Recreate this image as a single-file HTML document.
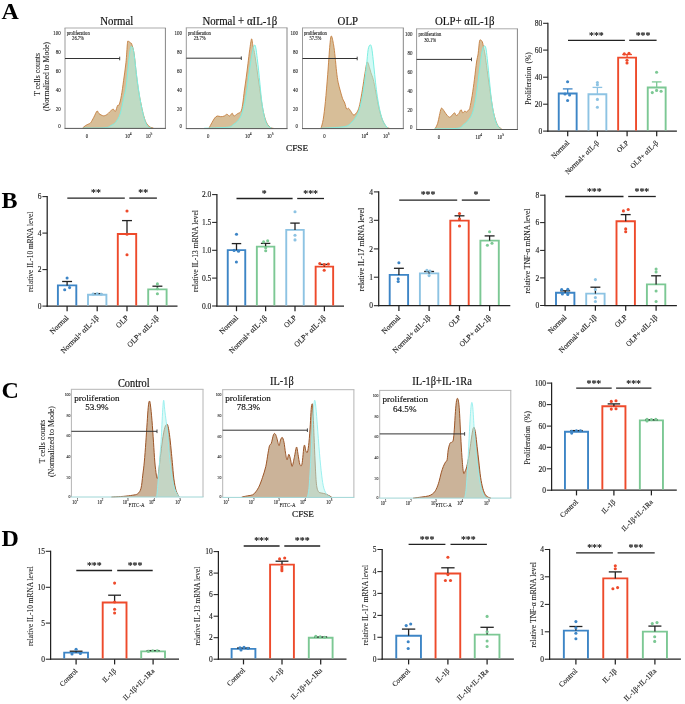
<!DOCTYPE html>
<html><head><meta charset="utf-8"><style>
html,body{margin:0;padding:0;background:#fff;}
svg{display:block;will-change:transform;}
text{font-family:"Liberation Serif", serif;stroke:currentColor;}
</style></head><body>
<svg width="685" height="704" viewBox="0 0 685 704">
<rect width="685" height="704" fill="#fff"/>
<text x="1.4" y="18.7" font-size="24" text-anchor="start" font-weight="bold" fill="#000" color="#000" stroke-width="0">A</text>
<text x="1.6" y="208.4" font-size="24" text-anchor="start" font-weight="bold" fill="#000" color="#000" stroke-width="0">B</text>
<text x="1.6" y="397.6" font-size="24" text-anchor="start" font-weight="bold" fill="#000" color="#000" stroke-width="0">C</text>
<text x="1.4" y="545.8" font-size="24" text-anchor="start" font-weight="bold" fill="#000" color="#000" stroke-width="0">D</text>
<path d="M82.61 128.06 C83.11 127.64 84.6 126.2 85.59 125.53 C86.58 124.86 87.7 124.54 88.57 124.04 C89.44 123.55 89.93 123.67 90.8 122.55 C91.67 121.44 92.74 119.25 93.78 117.34 C94.82 115.43 96.19 111.71 97.06 111.09 C97.93 110.47 97.93 112.83 98.99 113.62 C100.06 114.41 102.09 115.73 103.46 115.85 C104.82 115.98 106.19 114.99 107.18 114.36 C108.18 113.74 108.42 113 109.42 112.13 C110.41 111.26 112.15 109.28 113.14 109.15 C114.13 109.03 114.63 112.01 115.37 111.39 C116.12 110.77 116.96 106.57 117.61 105.43 C118.25 104.29 118.61 106.18 119.24 104.54 C119.88 102.9 120.68 99.57 121.4 95.6 C122.12 91.63 122.81 86.17 123.56 80.71 C124.32 75.25 125.3 69.07 125.94 62.84 C126.59 56.61 127.07 46.94 127.43 43.34 C127.79 39.74 127.61 41.35 128.1 41.25 C128.6 41.15 129.8 42.25 130.41 42.74 C131.02 43.24 131.13 42.37 131.75 44.23 C132.37 46.09 133.36 48.82 134.13 53.91 C134.9 59 135.62 68.55 136.37 74.76 C137.11 80.96 137.86 86.42 138.6 91.14 C139.35 95.85 140.09 99.33 140.84 103.05 C141.58 106.77 142.2 110.22 143.07 113.47 C143.94 116.72 144.93 120.32 146.05 122.55 C147.16 124.79 148.55 125.95 149.77 126.87 C150.99 127.79 152.75 127.87 153.34 128.06 L153.34 128.4 L82.61 128.4 Z" fill="#d7be98" stroke="none"/>
<path d="M82.61 128.06 C83.11 127.64 84.6 126.2 85.59 125.53 C86.58 124.86 87.7 124.54 88.57 124.04 C89.44 123.55 89.93 123.67 90.8 122.55 C91.67 121.44 92.74 119.25 93.78 117.34 C94.82 115.43 96.19 111.71 97.06 111.09 C97.93 110.47 97.93 112.83 98.99 113.62 C100.06 114.41 102.09 115.73 103.46 115.85 C104.82 115.98 106.19 114.99 107.18 114.36 C108.18 113.74 108.42 113 109.42 112.13 C110.41 111.26 112.15 109.28 113.14 109.15 C114.13 109.03 114.63 112.01 115.37 111.39 C116.12 110.77 116.96 106.57 117.61 105.43 C118.25 104.29 118.61 106.18 119.24 104.54 C119.88 102.9 120.68 99.57 121.4 95.6 C122.12 91.63 122.81 86.17 123.56 80.71 C124.32 75.25 125.3 69.07 125.94 62.84 C126.59 56.61 127.07 46.94 127.43 43.34 C127.79 39.74 127.61 41.35 128.1 41.25 C128.6 41.15 129.8 42.25 130.41 42.74 C131.02 43.24 131.13 42.37 131.75 44.23 C132.37 46.09 133.36 48.82 134.13 53.91 C134.9 59 135.62 68.55 136.37 74.76 C137.11 80.96 137.86 86.42 138.6 91.14 C139.35 95.85 140.09 99.33 140.84 103.05 C141.58 106.77 142.2 110.22 143.07 113.47 C143.94 116.72 144.93 120.32 146.05 122.55 C147.16 124.79 148.55 125.95 149.77 126.87 C150.99 127.79 152.75 127.87 153.34 128.06" fill="none" stroke="#c47e3e" stroke-width="0.9" stroke-linejoin="round"/>
<path d="M83.36 128.06 C86.96 128.01 100.33 128.19 104.95 127.77 C109.56 127.34 109.32 126.4 111.05 125.53 C112.79 124.66 114.01 124.07 115.37 122.55 C116.74 121.04 118.24 118.71 119.24 116.45 C120.25 114.19 120.68 111.98 121.4 109 C122.12 106.03 122.81 102.06 123.56 98.58 C124.32 95.11 125.3 92.13 125.94 88.16 C126.59 84.19 126.94 79.47 127.43 74.76 C127.93 70.04 128.43 64.23 128.92 59.87 C129.42 55.5 129.94 50.78 130.41 48.55 C130.88 46.32 131.28 46.32 131.75 46.46 C132.22 46.61 132.73 47.21 133.24 49.44 C133.75 51.68 134.28 55.89 134.8 59.87 C135.33 63.84 135.81 68.8 136.37 73.27 C136.93 77.73 137.56 82.45 138.15 86.67 C138.75 90.89 139.25 94.61 139.94 98.58 C140.64 102.55 141.55 107.02 142.32 110.49 C143.09 113.97 143.69 116.8 144.56 119.43 C145.43 122.06 146.42 124.84 147.54 126.28 C148.65 127.72 150.64 127.77 151.26 128.06 L151.26 128.4 L83.36 128.4 Z" fill="#a9f5ec" fill-opacity="0.523" stroke="none"/>
<path d="M83.36 128.06 C86.96 128.01 100.33 128.19 104.95 127.77 C109.56 127.34 109.32 126.4 111.05 125.53 C112.79 124.66 114.01 124.07 115.37 122.55 C116.74 121.04 118.24 118.71 119.24 116.45 C120.25 114.19 120.68 111.98 121.4 109 C122.12 106.03 122.81 102.06 123.56 98.58 C124.32 95.11 125.3 92.13 125.94 88.16 C126.59 84.19 126.94 79.47 127.43 74.76 C127.93 70.04 128.43 64.23 128.92 59.87 C129.42 55.5 129.94 50.78 130.41 48.55 C130.88 46.32 131.28 46.32 131.75 46.46 C132.22 46.61 132.73 47.21 133.24 49.44 C133.75 51.68 134.28 55.89 134.8 59.87 C135.33 63.84 135.81 68.8 136.37 73.27 C136.93 77.73 137.56 82.45 138.15 86.67 C138.75 90.89 139.25 94.61 139.94 98.58 C140.64 102.55 141.55 107.02 142.32 110.49 C143.09 113.97 143.69 116.8 144.56 119.43 C145.43 122.06 146.42 124.84 147.54 126.28 C148.65 127.72 150.64 127.77 151.26 128.06" fill="none" stroke="#7eefe2" stroke-width="1.0" stroke-linejoin="round"/>
<line x1="64.5" y1="28" x2="165.9" y2="28" stroke="#ababab" stroke-width="1"/>
<line x1="65" y1="28" x2="65" y2="128.4" stroke="#999" stroke-width="1"/>
<line x1="165.4" y1="28" x2="165.4" y2="128.4" stroke="#858585" stroke-width="1"/>
<line x1="64.5" y1="128.4" x2="165.9" y2="128.4" stroke="#555" stroke-width="1"/>
<line x1="65" y1="58.5" x2="119.7" y2="58.5" stroke="#333" stroke-width="1"/>
<line x1="119.7" y1="56.7" x2="119.7" y2="60.3" stroke="#333" stroke-width="0.9"/>
<text x="0" y="0" font-size="4.6" text-anchor="start" font-weight="normal" fill="#111" color="#111" stroke-width="0.08" transform="translate(66.8 34.8) scale(1 1.15)">proliferation</text>
<text x="0" y="0" font-size="4.6" text-anchor="start" font-weight="normal" fill="#111" color="#111" stroke-width="0.08" transform="translate(72.1 40.3) scale(1 1.15)">26.7%</text>
<text x="0" y="0" font-size="5" text-anchor="end" font-weight="normal" fill="#222" color="#222" stroke-width="0.09" transform="translate(60.8 35) scale(1 1.3)">100</text>
<text x="0" y="0" font-size="5" text-anchor="end" font-weight="normal" fill="#222" color="#222" stroke-width="0.09" transform="translate(60.8 54) scale(1 1.3)">80</text>
<text x="0" y="0" font-size="5" text-anchor="end" font-weight="normal" fill="#222" color="#222" stroke-width="0.09" transform="translate(60.8 73) scale(1 1.3)">60</text>
<text x="0" y="0" font-size="5" text-anchor="end" font-weight="normal" fill="#222" color="#222" stroke-width="0.09" transform="translate(60.8 92) scale(1 1.3)">40</text>
<text x="0" y="0" font-size="5" text-anchor="end" font-weight="normal" fill="#222" color="#222" stroke-width="0.09" transform="translate(60.8 111) scale(1 1.3)">20</text>
<text x="0" y="0" font-size="5" text-anchor="end" font-weight="normal" fill="#222" color="#222" stroke-width="0.09" transform="translate(60.8 128) scale(1 1.3)">0</text>
<text x="0" y="0" font-size="4.8" text-anchor="middle" font-weight="normal" fill="#222" color="#222" stroke-width="0.09" transform="translate(86.9 138) scale(1 1.2)">0</text>
<text x="0" y="0" font-size="4.8" text-anchor="middle" fill="#222" color="#222" stroke-width="0.1" transform="translate(128.3 138) scale(1 1.2)">10<tspan font-size="3.6" dy="-2.88">4</tspan></text>
<text x="0" y="0" font-size="4.8" text-anchor="middle" fill="#222" color="#222" stroke-width="0.1" transform="translate(149.1 138) scale(1 1.2)">10<tspan font-size="3.6" dy="-2.88">5</tspan></text>
<text x="0" y="0" font-size="10.6" text-anchor="middle" font-weight="normal" fill="#111" color="#111" stroke-width="0.16" transform="translate(116.7 24.6) scale(1.02 1.17)">Normal</text>
<path d="M208.89 128.26 C209.42 127.3 211.08 124.18 212.04 122.48 C213.01 120.79 213.8 119.18 214.67 118.1 C215.55 117.02 216.28 116.23 217.3 116 C218.32 115.77 219.64 116.7 220.8 116.7 C221.97 116.7 223.28 116.41 224.31 116 C225.33 115.59 226.06 114.25 226.93 114.25 C227.81 114.25 228.69 116.18 229.56 116 C230.44 115.82 231.46 113.2 232.19 113.2 C232.92 113.2 233.07 115.91 233.94 116 C234.82 116.09 236.28 114.48 237.45 113.72 C238.61 112.96 240.07 113.05 240.95 111.45 C241.82 109.84 242.12 107.65 242.7 104.09 C243.28 100.53 243.87 94.45 244.45 90.07 C245.04 85.69 245.62 82.19 246.2 77.81 C246.79 73.43 247.37 68.47 247.96 63.8 C248.54 59.12 249.11 53.93 249.71 49.78 C250.31 45.64 251.05 39.8 251.55 38.92 C252.04 38.04 252.32 42.86 252.69 44.53 C253.05 46.19 253.33 46.86 253.74 48.91 C254.15 50.95 254.64 53.72 255.14 56.79 C255.64 59.85 256.22 63.8 256.72 67.3 C257.21 70.8 257.62 74.31 258.12 77.81 C258.61 81.31 259.2 84.82 259.69 88.32 C260.19 91.82 260.57 95.33 261.09 98.83 C261.62 102.34 262.2 106.13 262.85 109.34 C263.49 112.55 264.19 115.62 264.95 118.1 C265.71 120.58 266.44 122.63 267.4 124.23 C268.36 125.84 269.74 127.07 270.73 127.74 C271.72 128.41 272.92 128.18 273.36 128.26 L273.36 128.6 L208.89 128.6 Z" fill="#d7be98" stroke="none"/>
<path d="M208.89 128.26 C209.42 127.3 211.08 124.18 212.04 122.48 C213.01 120.79 213.8 119.18 214.67 118.1 C215.55 117.02 216.28 116.23 217.3 116 C218.32 115.77 219.64 116.7 220.8 116.7 C221.97 116.7 223.28 116.41 224.31 116 C225.33 115.59 226.06 114.25 226.93 114.25 C227.81 114.25 228.69 116.18 229.56 116 C230.44 115.82 231.46 113.2 232.19 113.2 C232.92 113.2 233.07 115.91 233.94 116 C234.82 116.09 236.28 114.48 237.45 113.72 C238.61 112.96 240.07 113.05 240.95 111.45 C241.82 109.84 242.12 107.65 242.7 104.09 C243.28 100.53 243.87 94.45 244.45 90.07 C245.04 85.69 245.62 82.19 246.2 77.81 C246.79 73.43 247.37 68.47 247.96 63.8 C248.54 59.12 249.11 53.93 249.71 49.78 C250.31 45.64 251.05 39.8 251.55 38.92 C252.04 38.04 252.32 42.86 252.69 44.53 C253.05 46.19 253.33 46.86 253.74 48.91 C254.15 50.95 254.64 53.72 255.14 56.79 C255.64 59.85 256.22 63.8 256.72 67.3 C257.21 70.8 257.62 74.31 258.12 77.81 C258.61 81.31 259.2 84.82 259.69 88.32 C260.19 91.82 260.57 95.33 261.09 98.83 C261.62 102.34 262.2 106.13 262.85 109.34 C263.49 112.55 264.19 115.62 264.95 118.1 C265.71 120.58 266.44 122.63 267.4 124.23 C268.36 125.84 269.74 127.07 270.73 127.74 C271.72 128.41 272.92 128.18 273.36 128.26" fill="none" stroke="#c47e3e" stroke-width="0.9" stroke-linejoin="round"/>
<path d="M204.16 128.26 C208.1 128.09 222.99 127.8 227.81 127.21 C232.63 126.63 231.46 125.75 233.07 124.76 C234.67 123.77 236.13 122.72 237.45 121.26 C238.76 119.8 239.93 118.28 240.95 116 C241.97 113.72 242.79 110.74 243.58 107.59 C244.36 104.44 245.04 100.58 245.68 97.08 C246.32 93.58 246.85 90.66 247.43 86.57 C248.01 82.48 248.6 76.93 249.18 72.55 C249.77 68.18 250.35 63.94 250.93 60.29 C251.52 56.64 252.07 53.2 252.69 50.66 C253.3 48.12 254.09 45.49 254.61 45.05 C255.14 44.61 255.4 45.78 255.84 48.03 C256.28 50.28 256.77 54.74 257.24 58.54 C257.71 62.34 258.18 66.42 258.64 70.8 C259.11 75.18 259.58 80.15 260.04 84.82 C260.51 89.49 260.92 94.45 261.45 98.83 C261.97 103.21 262.53 107.45 263.2 111.09 C263.87 114.74 264.66 118.25 265.47 120.73 C266.29 123.21 267.08 124.73 268.1 125.99 C269.12 127.24 271.02 127.88 271.61 128.26 L271.61 128.6 L204.16 128.6 Z" fill="#a9f5ec" fill-opacity="0.523" stroke="none"/>
<path d="M204.16 128.26 C208.1 128.09 222.99 127.8 227.81 127.21 C232.63 126.63 231.46 125.75 233.07 124.76 C234.67 123.77 236.13 122.72 237.45 121.26 C238.76 119.8 239.93 118.28 240.95 116 C241.97 113.72 242.79 110.74 243.58 107.59 C244.36 104.44 245.04 100.58 245.68 97.08 C246.32 93.58 246.85 90.66 247.43 86.57 C248.01 82.48 248.6 76.93 249.18 72.55 C249.77 68.18 250.35 63.94 250.93 60.29 C251.52 56.64 252.07 53.2 252.69 50.66 C253.3 48.12 254.09 45.49 254.61 45.05 C255.14 44.61 255.4 45.78 255.84 48.03 C256.28 50.28 256.77 54.74 257.24 58.54 C257.71 62.34 258.18 66.42 258.64 70.8 C259.11 75.18 259.58 80.15 260.04 84.82 C260.51 89.49 260.92 94.45 261.45 98.83 C261.97 103.21 262.53 107.45 263.2 111.09 C263.87 114.74 264.66 118.25 265.47 120.73 C266.29 123.21 267.08 124.73 268.1 125.99 C269.12 127.24 271.02 127.88 271.61 128.26" fill="none" stroke="#7eefe2" stroke-width="1.0" stroke-linejoin="round"/>
<line x1="185.8" y1="27.8" x2="287.5" y2="27.8" stroke="#ababab" stroke-width="1"/>
<line x1="186.3" y1="27.8" x2="186.3" y2="128.6" stroke="#999" stroke-width="1"/>
<line x1="287" y1="27.8" x2="287" y2="128.6" stroke="#858585" stroke-width="1"/>
<line x1="185.8" y1="128.6" x2="287.5" y2="128.6" stroke="#555" stroke-width="1"/>
<line x1="186.3" y1="58.2" x2="241.3" y2="58.2" stroke="#333" stroke-width="1"/>
<line x1="241.3" y1="56.4" x2="241.3" y2="60" stroke="#333" stroke-width="0.9"/>
<text x="0" y="0" font-size="4.6" text-anchor="start" font-weight="normal" fill="#111" color="#111" stroke-width="0.08" transform="translate(188 34.7) scale(1 1.15)">proliferation</text>
<text x="0" y="0" font-size="4.6" text-anchor="start" font-weight="normal" fill="#111" color="#111" stroke-width="0.08" transform="translate(193.7 39.9) scale(1 1.15)">23.7%</text>
<text x="0" y="0" font-size="5" text-anchor="end" font-weight="normal" fill="#222" color="#222" stroke-width="0.09" transform="translate(182 34.8) scale(1 1.3)">100</text>
<text x="0" y="0" font-size="5" text-anchor="end" font-weight="normal" fill="#222" color="#222" stroke-width="0.09" transform="translate(182 53.8) scale(1 1.3)">80</text>
<text x="0" y="0" font-size="5" text-anchor="end" font-weight="normal" fill="#222" color="#222" stroke-width="0.09" transform="translate(182 72.8) scale(1 1.3)">60</text>
<text x="0" y="0" font-size="5" text-anchor="end" font-weight="normal" fill="#222" color="#222" stroke-width="0.09" transform="translate(182 91.8) scale(1 1.3)">40</text>
<text x="0" y="0" font-size="5" text-anchor="end" font-weight="normal" fill="#222" color="#222" stroke-width="0.09" transform="translate(182 110.8) scale(1 1.3)">20</text>
<text x="0" y="0" font-size="5" text-anchor="end" font-weight="normal" fill="#222" color="#222" stroke-width="0.09" transform="translate(182 128) scale(1 1.3)">0</text>
<text x="0" y="0" font-size="4.8" text-anchor="middle" font-weight="normal" fill="#222" color="#222" stroke-width="0.09" transform="translate(208.2 138) scale(1 1.2)">0</text>
<text x="0" y="0" font-size="4.8" text-anchor="middle" fill="#222" color="#222" stroke-width="0.1" transform="translate(248.3 138) scale(1 1.2)">10<tspan font-size="3.6" dy="-2.88">4</tspan></text>
<text x="0" y="0" font-size="4.8" text-anchor="middle" fill="#222" color="#222" stroke-width="0.1" transform="translate(270.2 138) scale(1 1.2)">10<tspan font-size="3.6" dy="-2.88">5</tspan></text>
<text x="0" y="0" font-size="10.6" text-anchor="middle" font-weight="normal" fill="#111" color="#111" stroke-width="0.16" transform="translate(239.8 24.6) scale(1.02 1.17)">Normal + αIL-1β</text>
<path d="M321 128.26 C321.36 126.8 322.46 123.95 323.19 119.5 C323.92 115.06 324.65 109.07 325.4 101.6 C326.15 94.13 326.94 84.14 327.69 74.69 C328.44 65.24 329.28 51.34 329.9 44.89 C330.52 38.44 330.77 35.99 331.39 35.99 C332 35.99 332.98 41.43 333.6 44.89 C334.21 48.36 334.6 52.3 335.1 56.79 C335.6 61.27 336.09 67.57 336.59 71.8 C337.09 76.04 337.46 78.98 338.1 82.19 C338.73 85.4 339.64 88.35 340.39 91.09 C341.14 93.82 341.87 96.6 342.6 98.6 C343.33 100.6 344.12 101.36 344.79 103.09 C345.46 104.82 345.96 108.13 346.59 108.99 C347.23 109.86 347.89 107.91 348.59 108.29 C349.29 108.67 349.93 110.17 350.8 111.29 C351.67 112.41 352.68 115 353.79 115 C354.91 115 356.51 113.02 357.49 111.29 C358.47 109.55 358.88 108.19 359.7 104.6 C360.52 101 361.52 94.92 362.4 89.71 C363.27 84.49 364.15 77.89 364.95 73.29 C365.75 68.69 366.45 63.09 367.2 62.1 C367.94 61.1 368.79 65.56 369.4 67.3 C370.02 69.03 370.26 70.52 370.89 72.5 C371.52 74.48 372.44 76.33 373.19 79.19 C373.94 82.06 374.66 85.97 375.39 89.71 C376.13 93.44 376.85 97.87 377.6 101.6 C378.35 105.33 379.01 108.86 379.9 112.09 C380.78 115.33 381.78 118.53 382.89 120.99 C384.01 123.46 385.47 125.66 386.59 126.9 C387.7 128.13 389.08 128.15 389.58 128.4 L389.58 128.6 L321 128.6 Z" fill="#d7be98" stroke="none"/>
<path d="M321 128.26 C321.36 126.8 322.46 123.95 323.19 119.5 C323.92 115.06 324.65 109.07 325.4 101.6 C326.15 94.13 326.94 84.14 327.69 74.69 C328.44 65.24 329.28 51.34 329.9 44.89 C330.52 38.44 330.77 35.99 331.39 35.99 C332 35.99 332.98 41.43 333.6 44.89 C334.21 48.36 334.6 52.3 335.1 56.79 C335.6 61.27 336.09 67.57 336.59 71.8 C337.09 76.04 337.46 78.98 338.1 82.19 C338.73 85.4 339.64 88.35 340.39 91.09 C341.14 93.82 341.87 96.6 342.6 98.6 C343.33 100.6 344.12 101.36 344.79 103.09 C345.46 104.82 345.96 108.13 346.59 108.99 C347.23 109.86 347.89 107.91 348.59 108.29 C349.29 108.67 349.93 110.17 350.8 111.29 C351.67 112.41 352.68 115 353.79 115 C354.91 115 356.51 113.02 357.49 111.29 C358.47 109.55 358.88 108.19 359.7 104.6 C360.52 101 361.52 94.92 362.4 89.71 C363.27 84.49 364.15 77.89 364.95 73.29 C365.75 68.69 366.45 63.09 367.2 62.1 C367.94 61.1 368.79 65.56 369.4 67.3 C370.02 69.03 370.26 70.52 370.89 72.5 C371.52 74.48 372.44 76.33 373.19 79.19 C373.94 82.06 374.66 85.97 375.39 89.71 C376.13 93.44 376.85 97.87 377.6 101.6 C378.35 105.33 379.01 108.86 379.9 112.09 C380.78 115.33 381.78 118.53 382.89 120.99 C384.01 123.46 385.47 125.66 386.59 126.9 C387.7 128.13 389.08 128.15 389.58 128.4" fill="none" stroke="#c47e3e" stroke-width="0.9" stroke-linejoin="round"/>
<path d="M321 128.26 C323.73 128.12 333.18 127.73 337.4 127.39 C341.61 127.04 344.06 126.89 346.3 126.2 C348.53 125.5 349.3 124.57 350.8 123.2 C352.3 121.83 353.93 120.11 355.3 118 C356.67 115.88 357.88 113.73 359 110.5 C360.11 107.27 361.13 102.82 361.99 98.6 C362.86 94.39 363.45 90.67 364.2 85.2 C364.95 79.73 365.83 71.76 366.49 65.79 C367.16 59.82 367.58 52.88 368.19 49.4 C368.81 45.91 369.61 45.14 370.19 44.89 C370.78 44.65 371.2 45.42 371.7 47.91 C372.2 50.39 372.69 55.34 373.19 59.8 C373.69 64.27 374.16 69.71 374.69 74.69 C375.23 79.68 375.78 84.97 376.39 89.71 C377.01 94.44 377.69 99.12 378.39 103.09 C379.09 107.05 379.73 110.26 380.6 113.49 C381.46 116.73 382.34 120.01 383.59 122.5 C384.84 124.98 387.34 127.42 388.09 128.4 L388.09 128.6 L321 128.6 Z" fill="#a9f5ec" fill-opacity="0.523" stroke="none"/>
<path d="M321 128.26 C323.73 128.12 333.18 127.73 337.4 127.39 C341.61 127.04 344.06 126.89 346.3 126.2 C348.53 125.5 349.3 124.57 350.8 123.2 C352.3 121.83 353.93 120.11 355.3 118 C356.67 115.88 357.88 113.73 359 110.5 C360.11 107.27 361.13 102.82 361.99 98.6 C362.86 94.39 363.45 90.67 364.2 85.2 C364.95 79.73 365.83 71.76 366.49 65.79 C367.16 59.82 367.58 52.88 368.19 49.4 C368.81 45.91 369.61 45.14 370.19 44.89 C370.78 44.65 371.2 45.42 371.7 47.91 C372.2 50.39 372.69 55.34 373.19 59.8 C373.69 64.27 374.16 69.71 374.69 74.69 C375.23 79.68 375.78 84.97 376.39 89.71 C377.01 94.44 377.69 99.12 378.39 103.09 C379.09 107.05 379.73 110.26 380.6 113.49 C381.46 116.73 382.34 120.01 383.59 122.5 C384.84 124.98 387.34 127.42 388.09 128.4" fill="none" stroke="#7eefe2" stroke-width="1.0" stroke-linejoin="round"/>
<line x1="302" y1="27.9" x2="403.8" y2="27.9" stroke="#ababab" stroke-width="1"/>
<line x1="302.5" y1="27.9" x2="302.5" y2="128.6" stroke="#999" stroke-width="1"/>
<line x1="403.3" y1="27.9" x2="403.3" y2="128.6" stroke="#858585" stroke-width="1"/>
<line x1="302" y1="128.6" x2="403.8" y2="128.6" stroke="#555" stroke-width="1"/>
<line x1="302.5" y1="58.5" x2="357.2" y2="58.5" stroke="#333" stroke-width="1"/>
<line x1="357.2" y1="56.7" x2="357.2" y2="60.3" stroke="#333" stroke-width="0.9"/>
<text x="0" y="0" font-size="4.6" text-anchor="start" font-weight="normal" fill="#111" color="#111" stroke-width="0.08" transform="translate(303.9 35) scale(1 1.15)">proliferation</text>
<text x="0" y="0" font-size="4.6" text-anchor="start" font-weight="normal" fill="#111" color="#111" stroke-width="0.08" transform="translate(309.5 40.3) scale(1 1.15)">57.5%</text>
<text x="0" y="0" font-size="5" text-anchor="end" font-weight="normal" fill="#222" color="#222" stroke-width="0.09" transform="translate(298 35) scale(1 1.3)">100</text>
<text x="0" y="0" font-size="5" text-anchor="end" font-weight="normal" fill="#222" color="#222" stroke-width="0.09" transform="translate(298 54) scale(1 1.3)">80</text>
<text x="0" y="0" font-size="5" text-anchor="end" font-weight="normal" fill="#222" color="#222" stroke-width="0.09" transform="translate(298 73) scale(1 1.3)">60</text>
<text x="0" y="0" font-size="5" text-anchor="end" font-weight="normal" fill="#222" color="#222" stroke-width="0.09" transform="translate(298 92) scale(1 1.3)">40</text>
<text x="0" y="0" font-size="5" text-anchor="end" font-weight="normal" fill="#222" color="#222" stroke-width="0.09" transform="translate(298 111) scale(1 1.3)">20</text>
<text x="0" y="0" font-size="5" text-anchor="end" font-weight="normal" fill="#222" color="#222" stroke-width="0.09" transform="translate(298 128) scale(1 1.3)">0</text>
<text x="0" y="0" font-size="4.8" text-anchor="middle" font-weight="normal" fill="#222" color="#222" stroke-width="0.09" transform="translate(324.4 138) scale(1 1.2)">0</text>
<text x="0" y="0" font-size="4.8" text-anchor="middle" fill="#222" color="#222" stroke-width="0.1" transform="translate(364.7 138) scale(1 1.2)">10<tspan font-size="3.6" dy="-2.88">4</tspan></text>
<text x="0" y="0" font-size="4.8" text-anchor="middle" fill="#222" color="#222" stroke-width="0.1" transform="translate(386.3 138) scale(1 1.2)">10<tspan font-size="3.6" dy="-2.88">5</tspan></text>
<text x="0" y="0" font-size="10.6" text-anchor="middle" font-weight="normal" fill="#111" color="#111" stroke-width="0.16" transform="translate(347.8 24.6) scale(1.02 1.17)">OLP</text>
<path d="M435.04 128.96 C435.47 128.03 436.93 125.61 437.66 123.36 C438.39 121.11 438.83 117.96 439.42 115.47 C440 112.99 440.58 109.49 441.17 108.47 C441.75 107.45 442.34 108.76 442.92 109.34 C443.5 109.93 443.94 110.95 444.67 111.97 C445.4 112.99 446.42 114.6 447.3 115.47 C448.18 116.35 449.05 117.37 449.93 117.23 C450.8 117.08 451.77 115.33 452.55 114.6 C453.34 113.87 454.07 112.7 454.66 112.85 C455.24 112.99 455.39 115.33 456.06 115.47 C456.73 115.62 457.87 114.69 458.69 113.72 C459.5 112.76 460.29 109.84 460.96 109.69 C461.64 109.55 462.07 112.61 462.72 112.85 C463.36 113.08 464.18 111.24 464.82 111.09 C465.46 110.95 465.84 112.26 466.57 111.97 C467.3 111.68 468.64 110.07 469.2 109.34 C469.75 108.61 469.4 109.9 469.9 107.59 C470.39 105.28 471.42 100.23 472.18 95.5 C472.93 90.77 473.72 84.79 474.45 79.21 C475.18 73.64 475.94 66.28 476.55 62.04 C477.17 57.81 477.64 57.28 478.13 53.81 C478.63 50.34 479.09 43.47 479.53 41.2 C479.97 38.92 480.29 40.03 480.76 40.15 C481.23 40.26 481.84 40.58 482.34 41.9 C482.83 43.21 483.27 45.84 483.74 48.03 C484.2 50.22 484.67 52.12 485.14 55.04 C485.61 57.96 486.07 62.04 486.54 65.55 C487.01 69.05 487.42 72.26 487.94 76.06 C488.47 79.85 489.11 84.23 489.69 88.32 C490.28 92.41 490.86 96.79 491.45 100.58 C492.03 104.38 492.53 107.88 493.2 111.09 C493.87 114.31 494.66 117.37 495.47 119.85 C496.29 122.34 497.08 124.47 498.1 125.99 C499.12 127.5 501.02 128.47 501.61 128.96 L501.61 129.5 L435.04 129.5 Z" fill="#d7be98" stroke="none"/>
<path d="M435.04 128.96 C435.47 128.03 436.93 125.61 437.66 123.36 C438.39 121.11 438.83 117.96 439.42 115.47 C440 112.99 440.58 109.49 441.17 108.47 C441.75 107.45 442.34 108.76 442.92 109.34 C443.5 109.93 443.94 110.95 444.67 111.97 C445.4 112.99 446.42 114.6 447.3 115.47 C448.18 116.35 449.05 117.37 449.93 117.23 C450.8 117.08 451.77 115.33 452.55 114.6 C453.34 113.87 454.07 112.7 454.66 112.85 C455.24 112.99 455.39 115.33 456.06 115.47 C456.73 115.62 457.87 114.69 458.69 113.72 C459.5 112.76 460.29 109.84 460.96 109.69 C461.64 109.55 462.07 112.61 462.72 112.85 C463.36 113.08 464.18 111.24 464.82 111.09 C465.46 110.95 465.84 112.26 466.57 111.97 C467.3 111.68 468.64 110.07 469.2 109.34 C469.75 108.61 469.4 109.9 469.9 107.59 C470.39 105.28 471.42 100.23 472.18 95.5 C472.93 90.77 473.72 84.79 474.45 79.21 C475.18 73.64 475.94 66.28 476.55 62.04 C477.17 57.81 477.64 57.28 478.13 53.81 C478.63 50.34 479.09 43.47 479.53 41.2 C479.97 38.92 480.29 40.03 480.76 40.15 C481.23 40.26 481.84 40.58 482.34 41.9 C482.83 43.21 483.27 45.84 483.74 48.03 C484.2 50.22 484.67 52.12 485.14 55.04 C485.61 57.96 486.07 62.04 486.54 65.55 C487.01 69.05 487.42 72.26 487.94 76.06 C488.47 79.85 489.11 84.23 489.69 88.32 C490.28 92.41 490.86 96.79 491.45 100.58 C492.03 104.38 492.53 107.88 493.2 111.09 C493.87 114.31 494.66 117.37 495.47 119.85 C496.29 122.34 497.08 124.47 498.1 125.99 C499.12 127.5 501.02 128.47 501.61 128.96" fill="none" stroke="#c47e3e" stroke-width="0.9" stroke-linejoin="round"/>
<path d="M434.16 128.96 C438.1 128.85 452.99 128.91 457.81 128.26 C462.63 127.62 461.46 126.28 463.07 125.11 C464.67 123.94 466.13 122.72 467.45 121.26 C468.76 119.8 469.93 118.34 470.95 116.35 C471.97 114.36 472.79 112.26 473.58 109.34 C474.36 106.42 475.04 102.63 475.68 98.83 C476.32 95.04 476.85 90.95 477.43 86.57 C478.01 82.19 478.6 77.23 479.18 72.55 C479.77 67.88 480.35 62.48 480.93 58.54 C481.52 54.6 482.1 51.01 482.69 48.91 C483.27 46.8 483.91 46.07 484.44 45.93 C484.96 45.78 485.37 45.93 485.84 48.03 C486.31 50.13 486.8 54.74 487.24 58.54 C487.68 62.34 488.06 66.72 488.47 70.8 C488.88 74.89 489.26 78.69 489.69 83.07 C490.13 87.45 490.57 92.7 491.09 97.08 C491.62 101.46 492.2 105.69 492.85 109.34 C493.49 112.99 494.13 116.2 494.95 118.98 C495.77 121.75 496.79 124.32 497.75 125.99 C498.72 127.65 500.23 128.47 500.73 128.96 L500.73 129.5 L434.16 129.5 Z" fill="#a9f5ec" fill-opacity="0.523" stroke="none"/>
<path d="M434.16 128.96 C438.1 128.85 452.99 128.91 457.81 128.26 C462.63 127.62 461.46 126.28 463.07 125.11 C464.67 123.94 466.13 122.72 467.45 121.26 C468.76 119.8 469.93 118.34 470.95 116.35 C471.97 114.36 472.79 112.26 473.58 109.34 C474.36 106.42 475.04 102.63 475.68 98.83 C476.32 95.04 476.85 90.95 477.43 86.57 C478.01 82.19 478.6 77.23 479.18 72.55 C479.77 67.88 480.35 62.48 480.93 58.54 C481.52 54.6 482.1 51.01 482.69 48.91 C483.27 46.8 483.91 46.07 484.44 45.93 C484.96 45.78 485.37 45.93 485.84 48.03 C486.31 50.13 486.8 54.74 487.24 58.54 C487.68 62.34 488.06 66.72 488.47 70.8 C488.88 74.89 489.26 78.69 489.69 83.07 C490.13 87.45 490.57 92.7 491.09 97.08 C491.62 101.46 492.2 105.69 492.85 109.34 C493.49 112.99 494.13 116.2 494.95 118.98 C495.77 121.75 496.79 124.32 497.75 125.99 C498.72 127.65 500.23 128.47 500.73 128.96" fill="none" stroke="#7eefe2" stroke-width="1.0" stroke-linejoin="round"/>
<line x1="416.1" y1="28.8" x2="517.9" y2="28.8" stroke="#ababab" stroke-width="1"/>
<line x1="416.6" y1="28.8" x2="416.6" y2="129.5" stroke="#999" stroke-width="1"/>
<line x1="517.4" y1="28.8" x2="517.4" y2="129.5" stroke="#858585" stroke-width="1"/>
<line x1="416.1" y1="129.5" x2="517.9" y2="129.5" stroke="#555" stroke-width="1"/>
<line x1="416.6" y1="59.4" x2="471.5" y2="59.4" stroke="#333" stroke-width="1"/>
<line x1="471.5" y1="57.6" x2="471.5" y2="61.2" stroke="#333" stroke-width="0.9"/>
<text x="0" y="0" font-size="4.6" text-anchor="start" font-weight="normal" fill="#111" color="#111" stroke-width="0.08" transform="translate(418.4 36.3) scale(1 1.15)">proliferation</text>
<text x="0" y="0" font-size="4.6" text-anchor="start" font-weight="normal" fill="#111" color="#111" stroke-width="0.08" transform="translate(424.2 41.5) scale(1 1.15)">30.1%</text>
<text x="0" y="0" font-size="5" text-anchor="end" font-weight="normal" fill="#222" color="#222" stroke-width="0.09" transform="translate(412.5 35.7) scale(1 1.3)">100</text>
<text x="0" y="0" font-size="5" text-anchor="end" font-weight="normal" fill="#222" color="#222" stroke-width="0.09" transform="translate(412.5 54.7) scale(1 1.3)">80</text>
<text x="0" y="0" font-size="5" text-anchor="end" font-weight="normal" fill="#222" color="#222" stroke-width="0.09" transform="translate(412.5 73.7) scale(1 1.3)">60</text>
<text x="0" y="0" font-size="5" text-anchor="end" font-weight="normal" fill="#222" color="#222" stroke-width="0.09" transform="translate(412.5 92.7) scale(1 1.3)">40</text>
<text x="0" y="0" font-size="5" text-anchor="end" font-weight="normal" fill="#222" color="#222" stroke-width="0.09" transform="translate(412.5 111.7) scale(1 1.3)">20</text>
<text x="0" y="0" font-size="5" text-anchor="end" font-weight="normal" fill="#222" color="#222" stroke-width="0.09" transform="translate(412.5 129.2) scale(1 1.3)">0</text>
<text x="0" y="0" font-size="4.8" text-anchor="middle" font-weight="normal" fill="#222" color="#222" stroke-width="0.09" transform="translate(438.9 139) scale(1 1.2)">0</text>
<text x="0" y="0" font-size="4.8" text-anchor="middle" fill="#222" color="#222" stroke-width="0.1" transform="translate(478.8 139) scale(1 1.2)">10<tspan font-size="3.6" dy="-2.88">4</tspan></text>
<text x="0" y="0" font-size="4.8" text-anchor="middle" fill="#222" color="#222" stroke-width="0.1" transform="translate(500.7 139) scale(1 1.2)">10<tspan font-size="3.6" dy="-2.88">5</tspan></text>
<text x="0" y="0" font-size="10.6" text-anchor="middle" font-weight="normal" fill="#111" color="#111" stroke-width="0.16" transform="translate(464.8 24.6) scale(1.02 1.17)">OLP+ αIL-1β</text>
<text x="39.8" y="74.5" font-size="7.8" text-anchor="middle" font-weight="normal" fill="#222" color="#222" stroke-width="0.08" transform="rotate(-90 39.8 74.5)">T cells counts</text>
<text x="49.2" y="76.5" font-size="7.7" text-anchor="middle" font-weight="normal" fill="#222" color="#222" stroke-width="0.08" transform="rotate(-90 49.2 76.5)">(Normalized to Mode)</text>
<text x="297.1" y="151.1" font-size="9.2" text-anchor="middle" font-weight="normal" fill="#111" color="#111" stroke-width="0.16">CFSE</text>
<path d="M111.46 497 C113.47 496.89 120.04 496.64 123.5 496.35 C126.97 496.06 129.89 495.69 132.26 495.26 C134.64 494.82 136.28 494.89 137.74 493.72 C139.2 492.55 140.18 491.35 141.02 488.25 C141.86 485.15 142.23 479.49 142.77 475.11 C143.32 470.73 143.8 467.45 144.31 461.97 C144.82 456.5 145.36 448.83 145.84 442.26 C146.31 435.69 146.75 428.39 147.15 422.55 C147.55 416.72 147.88 410.8 148.25 407.23 C148.61 403.65 148.98 401.46 149.34 401.09 C149.71 400.73 150 401.82 150.44 405.04 C150.88 408.25 151.46 414.16 151.97 420.36 C152.48 426.57 153.03 435.33 153.5 442.26 C153.98 449.2 154.34 456.5 154.82 461.97 C155.29 467.45 155.95 472.37 156.35 475.11 C156.75 477.85 156.9 478.47 157.23 478.39 C157.55 478.32 157.81 478.14 158.32 474.67 C158.83 471.2 159.6 463.36 160.29 457.59 C160.99 451.82 161.72 445.11 162.48 440.07 C163.25 435.04 164.09 429.99 164.89 427.37 C165.69 424.76 166.62 423.92 167.28 424.39 C167.93 424.87 168.35 427.61 168.83 430.22 C169.31 432.83 169.74 436.61 170.15 440.07 C170.55 443.54 170.88 447.3 171.24 451.02 C171.61 454.74 171.9 457.77 172.34 462.41 C172.77 467.04 173.25 474.16 173.87 478.83 C174.49 483.5 175.18 487.41 176.06 490.44 C176.93 493.47 178.61 495.91 179.12 497 L179.12 497 L111.46 497 Z" fill="#cbb399" stroke="none"/>
<path d="M111.46 497 C113.47 496.89 120.04 496.64 123.5 496.35 C126.97 496.06 129.89 495.69 132.26 495.26 C134.64 494.82 136.28 494.89 137.74 493.72 C139.2 492.55 140.18 491.35 141.02 488.25 C141.86 485.15 142.23 479.49 142.77 475.11 C143.32 470.73 143.8 467.45 144.31 461.97 C144.82 456.5 145.36 448.83 145.84 442.26 C146.31 435.69 146.75 428.39 147.15 422.55 C147.55 416.72 147.88 410.8 148.25 407.23 C148.61 403.65 148.98 401.46 149.34 401.09 C149.71 400.73 150 401.82 150.44 405.04 C150.88 408.25 151.46 414.16 151.97 420.36 C152.48 426.57 153.03 435.33 153.5 442.26 C153.98 449.2 154.34 456.5 154.82 461.97 C155.29 467.45 155.95 472.37 156.35 475.11 C156.75 477.85 156.9 478.47 157.23 478.39 C157.55 478.32 157.81 478.14 158.32 474.67 C158.83 471.2 159.6 463.36 160.29 457.59 C160.99 451.82 161.72 445.11 162.48 440.07 C163.25 435.04 164.09 429.99 164.89 427.37 C165.69 424.76 166.62 423.92 167.28 424.39 C167.93 424.87 168.35 427.61 168.83 430.22 C169.31 432.83 169.74 436.61 170.15 440.07 C170.55 443.54 170.88 447.3 171.24 451.02 C171.61 454.74 171.9 457.77 172.34 462.41 C172.77 467.04 173.25 474.16 173.87 478.83 C174.49 483.5 175.18 487.41 176.06 490.44 C176.93 493.47 178.61 495.91 179.12 497" fill="none" stroke="#9c5527" stroke-width="1.0" stroke-linejoin="round"/>
<path d="M155.91 497 C156.06 496.82 156.46 498.1 156.79 495.91 C157.12 493.72 157.52 488.25 157.88 483.87 C158.25 479.49 158.61 474.56 158.98 469.64 C159.34 464.71 159.71 459.31 160.07 454.31 C160.44 449.31 160.73 447.04 161.17 439.64 C161.61 432.23 162.28 416.42 162.7 409.85 C163.12 403.28 163.38 400.29 163.71 400.22 C164.04 400.15 164.26 405.88 164.67 409.42 C165.09 412.96 165.73 417.63 166.2 421.46 C166.68 425.29 166.99 426.86 167.52 432.41 C168.05 437.96 168.85 448.91 169.4 454.74 C169.95 460.58 170.31 463.5 170.8 467.45 C171.29 471.39 171.82 475.29 172.34 478.39 C172.85 481.5 173.25 483.8 173.87 486.06 C174.49 488.32 175.18 490.15 176.06 491.97 C176.93 493.79 178.61 496.16 179.12 497 L179.12 497 L155.91 497 Z" fill="#bdf5ed" fill-opacity="0.513" stroke="none"/>
<path d="M155.91 497 C156.06 496.82 156.46 498.1 156.79 495.91 C157.12 493.72 157.52 488.25 157.88 483.87 C158.25 479.49 158.61 474.56 158.98 469.64 C159.34 464.71 159.71 459.31 160.07 454.31 C160.44 449.31 160.73 447.04 161.17 439.64 C161.61 432.23 162.28 416.42 162.7 409.85 C163.12 403.28 163.38 400.29 163.71 400.22 C164.04 400.15 164.26 405.88 164.67 409.42 C165.09 412.96 165.73 417.63 166.2 421.46 C166.68 425.29 166.99 426.86 167.52 432.41 C168.05 437.96 168.85 448.91 169.4 454.74 C169.95 460.58 170.31 463.5 170.8 467.45 C171.29 471.39 171.82 475.29 172.34 478.39 C172.85 481.5 173.25 483.8 173.87 486.06 C174.49 488.32 175.18 490.15 176.06 491.97 C176.93 493.79 178.61 496.16 179.12 497" fill="none" stroke="#93eeee" stroke-width="0.9" stroke-linejoin="round"/>
<line x1="70.9" y1="389.3" x2="203.5" y2="389.3" stroke="#b4b4b4" stroke-width="1"/>
<line x1="71.4" y1="389.3" x2="71.4" y2="497" stroke="#b4b4b4" stroke-width="1"/>
<line x1="203" y1="389.3" x2="203" y2="497" stroke="#b4b4b4" stroke-width="1"/>
<line x1="70.9" y1="497" x2="203.5" y2="497" stroke="#9fd6d6" stroke-width="1"/>
<line x1="71.4" y1="431.3" x2="157" y2="431.3" stroke="#333" stroke-width="1"/>
<line x1="157" y1="429.5" x2="157" y2="433.1" stroke="#333" stroke-width="0.9"/>
<text x="74.2" y="401.3" font-size="9.1" text-anchor="start" font-weight="normal" fill="#111" color="#111" stroke-width="0.16">proliferation</text>
<text x="85.2" y="410" font-size="9.1" text-anchor="start" font-weight="normal" fill="#111" color="#111" stroke-width="0.16">53.9%</text>
<text x="0" y="0" font-size="3.9" text-anchor="end" font-weight="normal" fill="#222" color="#222" stroke-width="0.07" transform="translate(70.5 396) scale(1 1.15)">100</text>
<text x="0" y="0" font-size="3.9" text-anchor="end" font-weight="normal" fill="#222" color="#222" stroke-width="0.07" transform="translate(70.5 416.8) scale(1 1.15)">80</text>
<text x="0" y="0" font-size="3.9" text-anchor="end" font-weight="normal" fill="#222" color="#222" stroke-width="0.07" transform="translate(70.5 437.4) scale(1 1.15)">60</text>
<text x="0" y="0" font-size="3.9" text-anchor="end" font-weight="normal" fill="#222" color="#222" stroke-width="0.07" transform="translate(70.5 457.8) scale(1 1.15)">40</text>
<text x="0" y="0" font-size="3.9" text-anchor="end" font-weight="normal" fill="#222" color="#222" stroke-width="0.07" transform="translate(70.5 478.6) scale(1 1.15)">20</text>
<text x="0" y="0" font-size="3.9" text-anchor="end" font-weight="normal" fill="#222" color="#222" stroke-width="0.07" transform="translate(70.5 497.6) scale(1 1.15)">0</text>
<text x="0" y="0" font-size="4.3" text-anchor="middle" fill="#222" color="#222" stroke-width="0.1" transform="translate(75.3 504.1) scale(1 1.2)">10<tspan font-size="3.22" dy="-3.01">1</tspan></text>
<text x="0" y="0" font-size="4.3" text-anchor="middle" fill="#222" color="#222" stroke-width="0.1" transform="translate(100.5 504.1) scale(1 1.2)">10<tspan font-size="3.22" dy="-3.01">2</tspan></text>
<text x="0" y="0" font-size="4.3" text-anchor="middle" fill="#222" color="#222" stroke-width="0.1" transform="translate(125.7 504.1) scale(1 1.2)">10<tspan font-size="3.22" dy="-3.01">3</tspan></text>
<text x="0" y="0" font-size="4.3" text-anchor="middle" fill="#222" color="#222" stroke-width="0.1" transform="translate(152 504.1) scale(1 1.2)">10<tspan font-size="3.22" dy="-3.01">4</tspan></text>
<text x="0" y="0" font-size="4.3" text-anchor="middle" fill="#222" color="#222" stroke-width="0.1" transform="translate(178.2 504.1) scale(1 1.2)">10<tspan font-size="3.22" dy="-3.01">5</tspan></text>
<text x="0" y="0" font-size="10.6" text-anchor="middle" font-weight="normal" fill="#111" color="#111" stroke-width="0.16" transform="translate(133.8 387.1) scale(0.98 1.1)">Control</text>
<path d="M241.75 497.01 C242.66 496.82 245.4 496.28 247.23 495.91 C249.05 495.55 251.24 495.55 252.7 494.82 C254.16 494.09 254.89 492.99 255.99 491.53 C257.08 490.07 258.18 488.43 259.27 486.06 C260.36 483.69 261.46 480.58 262.55 477.3 C263.65 474.01 264.93 470.36 265.84 466.35 C266.75 462.34 267.41 456.68 268.03 453.21 C268.65 449.74 269.01 447.19 269.56 445.55 C270.11 443.91 270.66 445.18 271.31 443.36 C271.97 441.53 272.85 436.17 273.5 434.6 C274.16 433.03 274.71 433.39 275.26 433.94 C275.8 434.49 276.17 435.95 276.79 437.88 C277.41 439.82 278.36 445.18 278.98 445.55 C279.6 445.91 279.96 441.42 280.51 440.07 C281.06 438.72 281.68 437.08 282.26 437.45 C282.85 437.81 283.47 439.64 284.01 442.26 C284.56 444.89 285.04 450.29 285.55 453.21 C286.06 456.13 286.53 459.6 287.08 459.78 C287.63 459.96 288.25 454.31 288.83 454.31 C289.42 454.31 290.04 457.77 290.58 459.78 C291.13 461.79 291.5 466.72 292.12 466.35 C292.74 465.99 293.58 460.8 294.31 457.59 C295.04 454.38 295.88 447.63 296.5 447.08 C297.12 446.53 297.48 451.46 298.03 454.31 C298.58 457.15 299.12 462.52 299.78 464.16 C300.44 465.8 301.24 467.26 301.97 464.16 C302.7 461.06 303.5 447.74 304.16 445.55 C304.82 443.36 305.36 449.93 305.91 451.02 C306.46 452.12 306.93 453.58 307.45 452.12 C307.96 450.66 308.5 446.82 308.98 442.26 C309.45 437.7 309.93 430.22 310.29 424.74 C310.66 419.27 310.88 412.88 311.17 409.42 C311.46 405.95 311.75 404.12 312.04 403.94 C312.34 403.76 312.59 403.03 312.92 408.32 C313.25 413.61 313.65 426.75 314.01 435.69 C314.38 444.64 314.71 453.94 315.11 461.97 C315.51 470 315.88 478.94 316.42 483.87 C316.97 488.8 317.52 490 318.39 491.53 C319.27 493.07 320.58 492.7 321.68 493.07 C322.77 493.43 323.87 493.36 324.96 493.72 C326.06 494.09 327.15 494.71 328.25 495.26 C329.34 495.8 330.99 496.72 331.53 497.01 L331.53 497.4 L241.75 497.4 Z" fill="#cbb399" stroke="none"/>
<path d="M241.75 497.01 C242.66 496.82 245.4 496.28 247.23 495.91 C249.05 495.55 251.24 495.55 252.7 494.82 C254.16 494.09 254.89 492.99 255.99 491.53 C257.08 490.07 258.18 488.43 259.27 486.06 C260.36 483.69 261.46 480.58 262.55 477.3 C263.65 474.01 264.93 470.36 265.84 466.35 C266.75 462.34 267.41 456.68 268.03 453.21 C268.65 449.74 269.01 447.19 269.56 445.55 C270.11 443.91 270.66 445.18 271.31 443.36 C271.97 441.53 272.85 436.17 273.5 434.6 C274.16 433.03 274.71 433.39 275.26 433.94 C275.8 434.49 276.17 435.95 276.79 437.88 C277.41 439.82 278.36 445.18 278.98 445.55 C279.6 445.91 279.96 441.42 280.51 440.07 C281.06 438.72 281.68 437.08 282.26 437.45 C282.85 437.81 283.47 439.64 284.01 442.26 C284.56 444.89 285.04 450.29 285.55 453.21 C286.06 456.13 286.53 459.6 287.08 459.78 C287.63 459.96 288.25 454.31 288.83 454.31 C289.42 454.31 290.04 457.77 290.58 459.78 C291.13 461.79 291.5 466.72 292.12 466.35 C292.74 465.99 293.58 460.8 294.31 457.59 C295.04 454.38 295.88 447.63 296.5 447.08 C297.12 446.53 297.48 451.46 298.03 454.31 C298.58 457.15 299.12 462.52 299.78 464.16 C300.44 465.8 301.24 467.26 301.97 464.16 C302.7 461.06 303.5 447.74 304.16 445.55 C304.82 443.36 305.36 449.93 305.91 451.02 C306.46 452.12 306.93 453.58 307.45 452.12 C307.96 450.66 308.5 446.82 308.98 442.26 C309.45 437.7 309.93 430.22 310.29 424.74 C310.66 419.27 310.88 412.88 311.17 409.42 C311.46 405.95 311.75 404.12 312.04 403.94 C312.34 403.76 312.59 403.03 312.92 408.32 C313.25 413.61 313.65 426.75 314.01 435.69 C314.38 444.64 314.71 453.94 315.11 461.97 C315.51 470 315.88 478.94 316.42 483.87 C316.97 488.8 317.52 490 318.39 491.53 C319.27 493.07 320.58 492.7 321.68 493.07 C322.77 493.43 323.87 493.36 324.96 493.72 C326.06 494.09 327.15 494.71 328.25 495.26 C329.34 495.8 330.99 496.72 331.53 497.01" fill="none" stroke="#9c5527" stroke-width="1.0" stroke-linejoin="round"/>
<path d="M307.45 497.01 C307.7 495.55 308.5 492.99 308.98 488.25 C309.45 483.5 309.85 476.2 310.29 468.54 C310.73 460.88 311.17 451.02 311.61 442.26 C312.04 433.5 312.45 422.92 312.92 415.99 C313.39 409.05 313.98 402.3 314.45 400.66 C314.93 399.01 315.29 402.12 315.77 406.13 C316.24 410.15 316.68 416.9 317.3 424.74 C317.92 432.59 318.76 444.82 319.49 453.21 C320.22 461.61 320.95 469.27 321.68 475.11 C322.41 480.95 322.96 484.96 323.87 488.25 C324.78 491.53 326.06 493.36 327.15 494.82 C328.25 496.28 329.89 496.64 330.44 497.01 L330.44 497.4 L307.45 497.4 Z" fill="#bdf5ed" fill-opacity="0.513" stroke="none"/>
<path d="M307.45 497.01 C307.7 495.55 308.5 492.99 308.98 488.25 C309.45 483.5 309.85 476.2 310.29 468.54 C310.73 460.88 311.17 451.02 311.61 442.26 C312.04 433.5 312.45 422.92 312.92 415.99 C313.39 409.05 313.98 402.3 314.45 400.66 C314.93 399.01 315.29 402.12 315.77 406.13 C316.24 410.15 316.68 416.9 317.3 424.74 C317.92 432.59 318.76 444.82 319.49 453.21 C320.22 461.61 320.95 469.27 321.68 475.11 C322.41 480.95 322.96 484.96 323.87 488.25 C324.78 491.53 326.06 493.36 327.15 494.82 C328.25 496.28 329.89 496.64 330.44 497.01" fill="none" stroke="#93eeee" stroke-width="0.9" stroke-linejoin="round"/>
<line x1="222.2" y1="389.7" x2="354.4" y2="389.7" stroke="#b4b4b4" stroke-width="1"/>
<line x1="222.7" y1="389.7" x2="222.7" y2="497.4" stroke="#b4b4b4" stroke-width="1"/>
<line x1="353.9" y1="389.7" x2="353.9" y2="497.4" stroke="#b4b4b4" stroke-width="1"/>
<line x1="222.2" y1="497.4" x2="354.4" y2="497.4" stroke="#9fd6d6" stroke-width="1"/>
<line x1="222.7" y1="430.2" x2="307.4" y2="430.2" stroke="#333" stroke-width="1"/>
<line x1="307.4" y1="428.4" x2="307.4" y2="432" stroke="#333" stroke-width="0.9"/>
<text x="225.3" y="401.3" font-size="9.1" text-anchor="start" font-weight="normal" fill="#111" color="#111" stroke-width="0.16">proliferation</text>
<text x="236.7" y="410" font-size="9.1" text-anchor="start" font-weight="normal" fill="#111" color="#111" stroke-width="0.16">78.3%</text>
<text x="0" y="0" font-size="3.9" text-anchor="end" font-weight="normal" fill="#222" color="#222" stroke-width="0.07" transform="translate(221.5 396.4) scale(1 1.15)">100</text>
<text x="0" y="0" font-size="3.9" text-anchor="end" font-weight="normal" fill="#222" color="#222" stroke-width="0.07" transform="translate(221.5 417.2) scale(1 1.15)">80</text>
<text x="0" y="0" font-size="3.9" text-anchor="end" font-weight="normal" fill="#222" color="#222" stroke-width="0.07" transform="translate(221.5 437.8) scale(1 1.15)">60</text>
<text x="0" y="0" font-size="3.9" text-anchor="end" font-weight="normal" fill="#222" color="#222" stroke-width="0.07" transform="translate(221.5 458.2) scale(1 1.15)">40</text>
<text x="0" y="0" font-size="3.9" text-anchor="end" font-weight="normal" fill="#222" color="#222" stroke-width="0.07" transform="translate(221.5 479) scale(1 1.15)">20</text>
<text x="0" y="0" font-size="3.9" text-anchor="end" font-weight="normal" fill="#222" color="#222" stroke-width="0.07" transform="translate(221.5 498) scale(1 1.15)">0</text>
<text x="0" y="0" font-size="4.3" text-anchor="middle" fill="#222" color="#222" stroke-width="0.1" transform="translate(226.4 504.1) scale(1 1.2)">10<tspan font-size="3.22" dy="-3.01">1</tspan></text>
<text x="0" y="0" font-size="4.3" text-anchor="middle" fill="#222" color="#222" stroke-width="0.1" transform="translate(251.6 504.1) scale(1 1.2)">10<tspan font-size="3.22" dy="-3.01">2</tspan></text>
<text x="0" y="0" font-size="4.3" text-anchor="middle" fill="#222" color="#222" stroke-width="0.1" transform="translate(276.8 504.1) scale(1 1.2)">10<tspan font-size="3.22" dy="-3.01">3</tspan></text>
<text x="0" y="0" font-size="4.3" text-anchor="middle" fill="#222" color="#222" stroke-width="0.1" transform="translate(303 504.1) scale(1 1.2)">10<tspan font-size="3.22" dy="-3.01">4</tspan></text>
<text x="0" y="0" font-size="4.3" text-anchor="middle" fill="#222" color="#222" stroke-width="0.1" transform="translate(329.3 504.1) scale(1 1.2)">10<tspan font-size="3.22" dy="-3.01">5</tspan></text>
<text x="0" y="0" font-size="10.6" text-anchor="middle" font-weight="normal" fill="#111" color="#111" stroke-width="0.16" transform="translate(281.9 384.9) scale(0.98 1.1)">IL-1β</text>
<path d="M413.18 498.1 C414.64 497.92 419.38 497.37 421.93 497.01 C424.49 496.64 426.68 496.46 428.5 495.91 C430.33 495.36 431.61 494.82 432.88 493.72 C434.16 492.63 435.15 491.35 436.17 489.34 C437.19 487.34 438.18 484.42 439.01 481.68 C439.85 478.94 440.47 475.47 441.2 472.92 C441.93 470.36 442.66 468.18 443.39 466.35 C444.12 464.53 444.96 463.07 445.58 461.97 C446.2 460.88 446.68 461.79 447.12 459.78 C447.55 457.77 447.74 452.66 448.21 449.93 C448.69 447.19 449.38 444.64 449.96 443.36 C450.55 442.08 451.17 442.81 451.72 442.26 C452.26 441.72 452.81 442.26 453.25 440.07 C453.69 437.88 453.98 433.87 454.34 429.12 C454.71 424.38 455.07 416.35 455.44 411.61 C455.8 406.86 456.17 402.85 456.53 400.66 C456.9 398.47 457.26 398.1 457.63 398.47 C457.99 398.83 458.39 400.29 458.72 402.85 C459.05 405.4 459.27 408.32 459.6 413.8 C459.93 419.27 460.29 428.39 460.69 435.69 C461.09 442.99 461.53 451.39 462.01 457.59 C462.48 463.8 462.99 470.73 463.54 472.92 C464.09 475.11 464.74 471.82 465.29 470.73 C465.84 469.64 466.2 468.91 466.82 466.35 C467.45 463.8 468.28 459.78 469.01 455.4 C469.74 451.02 470.58 444.27 471.2 440.07 C471.82 435.88 472.26 432.34 472.74 430.22 C473.21 428.1 473.58 426.82 474.05 427.37 C474.53 427.92 475.07 430.29 475.58 433.5 C476.09 436.72 476.57 441.9 477.12 446.64 C477.66 451.39 478.28 456.86 478.87 461.97 C479.45 467.08 479.96 472.92 480.62 477.3 C481.28 481.68 482.01 485.33 482.81 488.25 C483.61 491.17 484.45 493.28 485.44 494.82 C486.42 496.35 487.81 496.9 488.72 497.45 C489.64 497.99 490.55 497.99 490.91 498.1 L490.91 498.1 L413.18 498.1 Z" fill="#cbb399" stroke="none"/>
<path d="M413.18 498.1 C414.64 497.92 419.38 497.37 421.93 497.01 C424.49 496.64 426.68 496.46 428.5 495.91 C430.33 495.36 431.61 494.82 432.88 493.72 C434.16 492.63 435.15 491.35 436.17 489.34 C437.19 487.34 438.18 484.42 439.01 481.68 C439.85 478.94 440.47 475.47 441.2 472.92 C441.93 470.36 442.66 468.18 443.39 466.35 C444.12 464.53 444.96 463.07 445.58 461.97 C446.2 460.88 446.68 461.79 447.12 459.78 C447.55 457.77 447.74 452.66 448.21 449.93 C448.69 447.19 449.38 444.64 449.96 443.36 C450.55 442.08 451.17 442.81 451.72 442.26 C452.26 441.72 452.81 442.26 453.25 440.07 C453.69 437.88 453.98 433.87 454.34 429.12 C454.71 424.38 455.07 416.35 455.44 411.61 C455.8 406.86 456.17 402.85 456.53 400.66 C456.9 398.47 457.26 398.1 457.63 398.47 C457.99 398.83 458.39 400.29 458.72 402.85 C459.05 405.4 459.27 408.32 459.6 413.8 C459.93 419.27 460.29 428.39 460.69 435.69 C461.09 442.99 461.53 451.39 462.01 457.59 C462.48 463.8 462.99 470.73 463.54 472.92 C464.09 475.11 464.74 471.82 465.29 470.73 C465.84 469.64 466.2 468.91 466.82 466.35 C467.45 463.8 468.28 459.78 469.01 455.4 C469.74 451.02 470.58 444.27 471.2 440.07 C471.82 435.88 472.26 432.34 472.74 430.22 C473.21 428.1 473.58 426.82 474.05 427.37 C474.53 427.92 475.07 430.29 475.58 433.5 C476.09 436.72 476.57 441.9 477.12 446.64 C477.66 451.39 478.28 456.86 478.87 461.97 C479.45 467.08 479.96 472.92 480.62 477.3 C481.28 481.68 482.01 485.33 482.81 488.25 C483.61 491.17 484.45 493.28 485.44 494.82 C486.42 496.35 487.81 496.9 488.72 497.45 C489.64 497.99 490.55 497.99 490.91 498.1" fill="none" stroke="#9c5527" stroke-width="1.0" stroke-linejoin="round"/>
<path d="M464.64 498.1 C464.89 496.46 465.62 494.27 466.17 488.25 C466.72 482.23 467.37 471.46 467.92 461.97 C468.47 452.48 468.98 440.07 469.45 431.31 C469.93 422.55 470.36 414.23 470.77 409.42 C471.17 404.6 471.5 402.41 471.86 402.41 C472.23 402.41 472.52 404.23 472.96 409.42 C473.39 414.6 473.87 425.47 474.49 433.5 C475.11 441.53 475.95 450.66 476.68 457.59 C477.41 464.53 478.07 469.82 478.87 475.11 C479.67 480.4 480.47 485.69 481.5 489.34 C482.52 492.99 483.98 495.55 485 497.01 C486.02 498.47 487.19 497.92 487.63 498.1 L487.63 498.1 L464.64 498.1 Z" fill="#bdf5ed" fill-opacity="0.513" stroke="none"/>
<path d="M464.64 498.1 C464.89 496.46 465.62 494.27 466.17 488.25 C466.72 482.23 467.37 471.46 467.92 461.97 C468.47 452.48 468.98 440.07 469.45 431.31 C469.93 422.55 470.36 414.23 470.77 409.42 C471.17 404.6 471.5 402.41 471.86 402.41 C472.23 402.41 472.52 404.23 472.96 409.42 C473.39 414.6 473.87 425.47 474.49 433.5 C475.11 441.53 475.95 450.66 476.68 457.59 C477.41 464.53 478.07 469.82 478.87 475.11 C479.67 480.4 480.47 485.69 481.5 489.34 C482.52 492.99 483.98 495.55 485 497.01 C486.02 498.47 487.19 497.92 487.63 498.1" fill="none" stroke="#93eeee" stroke-width="0.9" stroke-linejoin="round"/>
<line x1="379.2" y1="390.4" x2="511.3" y2="390.4" stroke="#b4b4b4" stroke-width="1"/>
<line x1="379.7" y1="390.4" x2="379.7" y2="498.1" stroke="#b4b4b4" stroke-width="1"/>
<line x1="510.8" y1="390.4" x2="510.8" y2="498.1" stroke="#b4b4b4" stroke-width="1"/>
<line x1="379.2" y1="498.1" x2="511.3" y2="498.1" stroke="#9fd6d6" stroke-width="1"/>
<line x1="379.7" y1="433.9" x2="464.6" y2="433.9" stroke="#333" stroke-width="1"/>
<line x1="464.6" y1="432.1" x2="464.6" y2="435.7" stroke="#333" stroke-width="0.9"/>
<text x="382.5" y="401.9" font-size="9.1" text-anchor="start" font-weight="normal" fill="#111" color="#111" stroke-width="0.16">proliferation</text>
<text x="393" y="412.2" font-size="9.1" text-anchor="start" font-weight="normal" fill="#111" color="#111" stroke-width="0.16">64.5%</text>
<text x="0" y="0" font-size="3.9" text-anchor="end" font-weight="normal" fill="#222" color="#222" stroke-width="0.07" transform="translate(378.5 397) scale(1 1.15)">100</text>
<text x="0" y="0" font-size="3.9" text-anchor="end" font-weight="normal" fill="#222" color="#222" stroke-width="0.07" transform="translate(378.5 417.8) scale(1 1.15)">80</text>
<text x="0" y="0" font-size="3.9" text-anchor="end" font-weight="normal" fill="#222" color="#222" stroke-width="0.07" transform="translate(378.5 438.4) scale(1 1.15)">60</text>
<text x="0" y="0" font-size="3.9" text-anchor="end" font-weight="normal" fill="#222" color="#222" stroke-width="0.07" transform="translate(378.5 458.8) scale(1 1.15)">40</text>
<text x="0" y="0" font-size="3.9" text-anchor="end" font-weight="normal" fill="#222" color="#222" stroke-width="0.07" transform="translate(378.5 479.6) scale(1 1.15)">20</text>
<text x="0" y="0" font-size="3.9" text-anchor="end" font-weight="normal" fill="#222" color="#222" stroke-width="0.07" transform="translate(378.5 498.6) scale(1 1.15)">0</text>
<text x="0" y="0" font-size="4.3" text-anchor="middle" fill="#222" color="#222" stroke-width="0.1" transform="translate(383.6 505.1) scale(1 1.2)">10<tspan font-size="3.22" dy="-3.01">1</tspan></text>
<text x="0" y="0" font-size="4.3" text-anchor="middle" fill="#222" color="#222" stroke-width="0.1" transform="translate(408.8 505.1) scale(1 1.2)">10<tspan font-size="3.22" dy="-3.01">2</tspan></text>
<text x="0" y="0" font-size="4.3" text-anchor="middle" fill="#222" color="#222" stroke-width="0.1" transform="translate(434 505.1) scale(1 1.2)">10<tspan font-size="3.22" dy="-3.01">3</tspan></text>
<text x="0" y="0" font-size="4.3" text-anchor="middle" fill="#222" color="#222" stroke-width="0.1" transform="translate(460.2 505.1) scale(1 1.2)">10<tspan font-size="3.22" dy="-3.01">4</tspan></text>
<text x="0" y="0" font-size="4.3" text-anchor="middle" fill="#222" color="#222" stroke-width="0.1" transform="translate(487 505.1) scale(1 1.2)">10<tspan font-size="3.22" dy="-3.01">5</tspan></text>
<text x="0" y="0" font-size="10.6" text-anchor="middle" font-weight="normal" fill="#111" color="#111" stroke-width="0.16" transform="translate(442.1 384.9) scale(0.98 1.1)">IL-1β+IL-1Ra</text>
<text x="0" y="0" font-size="5" text-anchor="middle" font-weight="normal" fill="#222" color="#222" stroke-width="0.09" transform="translate(136.65 506.5) scale(1 1.25)">FITC-A</text>
<text x="0" y="0" font-size="5" text-anchor="middle" font-weight="normal" fill="#222" color="#222" stroke-width="0.09" transform="translate(287.5 506.5) scale(1 1.25)">FITC-A</text>
<text x="0" y="0" font-size="5" text-anchor="middle" font-weight="normal" fill="#222" color="#222" stroke-width="0.09" transform="translate(443.85 507.3) scale(1 1.25)">FITC-A</text>
<text x="44.5" y="441.5" font-size="7.9" text-anchor="middle" font-weight="normal" fill="#222" color="#222" stroke-width="0.08" transform="rotate(-90 44.5 441.5)">T cells counts</text>
<text x="53.6" y="441.5" font-size="7.9" text-anchor="middle" font-weight="normal" fill="#222" color="#222" stroke-width="0.08" transform="rotate(-90 53.6 441.5)">(Normalized to Mode)</text>
<text x="303" y="516.6" font-size="9.2" text-anchor="middle" font-weight="normal" fill="#111" color="#111" stroke-width="0.16">CFSE</text>
<line x1="543.1" y1="131.1" x2="547.9" y2="131.1" stroke="#222" stroke-width="1.05"/>
<text x="542.3" y="133.8" font-size="7.5" text-anchor="end" font-weight="normal" fill="#222" color="#222" stroke-width="0.13">0</text>
<line x1="543.1" y1="104.2" x2="547.9" y2="104.2" stroke="#222" stroke-width="1.05"/>
<text x="542.3" y="106.9" font-size="7.5" text-anchor="end" font-weight="normal" fill="#222" color="#222" stroke-width="0.13">20</text>
<line x1="543.1" y1="77.2" x2="547.9" y2="77.2" stroke="#222" stroke-width="1.05"/>
<text x="542.3" y="79.9" font-size="7.5" text-anchor="end" font-weight="normal" fill="#222" color="#222" stroke-width="0.13">40</text>
<line x1="543.1" y1="50.1" x2="547.9" y2="50.1" stroke="#222" stroke-width="1.05"/>
<text x="542.3" y="52.8" font-size="7.5" text-anchor="end" font-weight="normal" fill="#222" color="#222" stroke-width="0.13">60</text>
<line x1="543.1" y1="23.3" x2="547.9" y2="23.3" stroke="#222" stroke-width="1.05"/>
<text x="542.3" y="26" font-size="7.5" text-anchor="end" font-weight="normal" fill="#222" color="#222" stroke-width="0.13">80</text>
<line x1="547.9" y1="22.68" x2="547.9" y2="131.72" stroke="#222" stroke-width="1.25"/>
<line x1="547.27" y1="131.1" x2="676.9" y2="131.1" stroke="#222" stroke-width="1.25"/>
<line x1="567.7" y1="131.1" x2="567.7" y2="136.3" stroke="#222" stroke-width="1.25"/>
<path d="M558.75 130.47 V93.5 H576.65 V130.47" fill="none" stroke="#3d85c6" stroke-width="1.9"/>
<line x1="567.7" y1="93.5" x2="567.7" y2="88.9" stroke="#3d85c6" stroke-width="1.3"/>
<line x1="562.87" y1="88.9" x2="572.53" y2="88.9" stroke="#3d85c6" stroke-width="1.3"/>
<circle cx="567.6" cy="81.8" r="1.55" fill="#3d85c6"/>
<circle cx="565" cy="94" r="1.55" fill="#3d85c6"/>
<circle cx="569.6" cy="95" r="1.55" fill="#3d85c6"/>
<circle cx="567.6" cy="100.5" r="1.55" fill="#3d85c6"/>
<line x1="597.4" y1="131.1" x2="597.4" y2="136.3" stroke="#222" stroke-width="1.25"/>
<path d="M588.45 130.47 V94.2 H606.35 V130.47" fill="none" stroke="#8dc3e3" stroke-width="1.9"/>
<line x1="597.4" y1="94.2" x2="597.4" y2="87.4" stroke="#8dc3e3" stroke-width="1.3"/>
<line x1="592.57" y1="87.4" x2="602.23" y2="87.4" stroke="#8dc3e3" stroke-width="1.3"/>
<circle cx="597.4" cy="82.5" r="1.55" fill="#8dc3e3"/>
<circle cx="597.4" cy="84.8" r="1.55" fill="#8dc3e3"/>
<circle cx="597.4" cy="99.4" r="1.55" fill="#8dc3e3"/>
<circle cx="597.4" cy="107.3" r="1.55" fill="#8dc3e3"/>
<line x1="627.1" y1="131.1" x2="627.1" y2="136.3" stroke="#222" stroke-width="1.25"/>
<path d="M618.15 130.47 V57.6 H636.05 V130.47" fill="none" stroke="#ee4a2b" stroke-width="1.9"/>
<line x1="627.1" y1="57.6" x2="627.1" y2="54.5" stroke="#ee4a2b" stroke-width="1.3"/>
<line x1="622.27" y1="54.5" x2="631.93" y2="54.5" stroke="#ee4a2b" stroke-width="1.3"/>
<circle cx="624.3" cy="53.9" r="1.55" fill="#ee4a2b"/>
<circle cx="629" cy="53.3" r="1.55" fill="#ee4a2b"/>
<circle cx="627" cy="60.3" r="1.55" fill="#ee4a2b"/>
<circle cx="627" cy="63" r="1.55" fill="#ee4a2b"/>
<line x1="656.7" y1="131.1" x2="656.7" y2="136.3" stroke="#222" stroke-width="1.25"/>
<path d="M647.75 130.47 V87.5 H665.65 V130.47" fill="none" stroke="#7cc894" stroke-width="1.9"/>
<line x1="656.7" y1="87.5" x2="656.7" y2="81.9" stroke="#7cc894" stroke-width="1.3"/>
<line x1="651.87" y1="81.9" x2="661.53" y2="81.9" stroke="#7cc894" stroke-width="1.3"/>
<circle cx="656.6" cy="72.3" r="1.55" fill="#7cc894"/>
<circle cx="652.3" cy="92.6" r="1.55" fill="#7cc894"/>
<circle cx="656.6" cy="90.4" r="1.55" fill="#7cc894"/>
<circle cx="661.1" cy="91.2" r="1.55" fill="#7cc894"/>
<line x1="568" y1="40.3" x2="624.9" y2="40.3" stroke="#222" stroke-width="1.3"/>
<text x="596.4" y="38.6" font-size="9.8" text-anchor="middle" font-weight="normal" fill="#111" color="#111" stroke-width="0.16">***</text>
<line x1="629.2" y1="40.3" x2="656.6" y2="40.3" stroke="#222" stroke-width="1.3"/>
<text x="643" y="38.6" font-size="9.8" text-anchor="middle" font-weight="normal" fill="#111" color="#111" stroke-width="0.16">***</text>
<text x="530.6" y="78.4" font-size="7.5" text-anchor="middle" font-weight="normal" fill="#222" color="#222" stroke-width="0.07" transform="rotate(-90 530.6 78.4)">Proliferation  (%)</text>
<text x="569.6" y="143.4" font-size="7.2" text-anchor="end" font-weight="normal" fill="#222" color="#222" stroke-width="0.13" transform="rotate(-45 569.6 143.4)">Normal</text>
<text x="599.3" y="143.4" font-size="7.2" text-anchor="end" font-weight="normal" fill="#222" color="#222" stroke-width="0.13" transform="rotate(-45 599.3 143.4)">Normal+ αIL-β</text>
<text x="629" y="143.4" font-size="7.2" text-anchor="end" font-weight="normal" fill="#222" color="#222" stroke-width="0.13" transform="rotate(-45 629 143.4)">OLP</text>
<text x="658.6" y="143.4" font-size="7.2" text-anchor="end" font-weight="normal" fill="#222" color="#222" stroke-width="0.13" transform="rotate(-45 658.6 143.4)">OLP+ αIL-β</text>
<line x1="42.4" y1="306.1" x2="47.2" y2="306.1" stroke="#222" stroke-width="1.05"/>
<text x="41.6" y="308.8" font-size="7.5" text-anchor="end" font-weight="normal" fill="#222" color="#222" stroke-width="0.13">0</text>
<line x1="42.4" y1="269.6" x2="47.2" y2="269.6" stroke="#222" stroke-width="1.05"/>
<text x="41.6" y="272.3" font-size="7.5" text-anchor="end" font-weight="normal" fill="#222" color="#222" stroke-width="0.13">2</text>
<line x1="42.4" y1="233.1" x2="47.2" y2="233.1" stroke="#222" stroke-width="1.05"/>
<text x="41.6" y="235.8" font-size="7.5" text-anchor="end" font-weight="normal" fill="#222" color="#222" stroke-width="0.13">4</text>
<line x1="42.4" y1="196.6" x2="47.2" y2="196.6" stroke="#222" stroke-width="1.05"/>
<text x="41.6" y="199.3" font-size="7.5" text-anchor="end" font-weight="normal" fill="#222" color="#222" stroke-width="0.13">6</text>
<line x1="47.2" y1="195.97" x2="47.2" y2="306.73" stroke="#222" stroke-width="1.25"/>
<line x1="46.58" y1="306.1" x2="177.5" y2="306.1" stroke="#222" stroke-width="1.25"/>
<line x1="67.1" y1="306.1" x2="67.1" y2="311.3" stroke="#222" stroke-width="1.25"/>
<path d="M57.9 305.48 V285.4 H76.3 V305.48" fill="none" stroke="#3d85c6" stroke-width="1.9"/>
<line x1="67.1" y1="285.4" x2="67.1" y2="281.5" stroke="#222" stroke-width="1.3"/>
<line x1="62.13" y1="281.5" x2="72.07" y2="281.5" stroke="#222" stroke-width="1.3"/>
<circle cx="67.1" cy="278" r="1.55" fill="#3d85c6"/>
<circle cx="64.7" cy="289.7" r="1.55" fill="#3d85c6"/>
<circle cx="69.6" cy="287.6" r="1.55" fill="#3d85c6"/>
<line x1="97.2" y1="306.1" x2="97.2" y2="311.3" stroke="#222" stroke-width="1.25"/>
<path d="M88 305.48 V294.7 H106.4 V305.48" fill="none" stroke="#8dc3e3" stroke-width="1.9"/>
<line x1="97.2" y1="294.7" x2="97.2" y2="293.6" stroke="#222" stroke-width="1.3"/>
<line x1="92.23" y1="293.6" x2="102.17" y2="293.6" stroke="#222" stroke-width="1.3"/>
<circle cx="93.1" cy="294.1" r="1.55" fill="#8dc3e3"/>
<circle cx="97.2" cy="293.8" r="1.55" fill="#8dc3e3"/>
<circle cx="101.2" cy="294.2" r="1.55" fill="#8dc3e3"/>
<line x1="127" y1="306.1" x2="127" y2="311.3" stroke="#222" stroke-width="1.25"/>
<path d="M117.8 305.48 V234 H136.2 V305.48" fill="none" stroke="#ee4a2b" stroke-width="1.9"/>
<line x1="127" y1="234" x2="127" y2="220.6" stroke="#222" stroke-width="1.3"/>
<line x1="122.03" y1="220.6" x2="131.97" y2="220.6" stroke="#222" stroke-width="1.3"/>
<circle cx="127" cy="211" r="1.55" fill="#ee4a2b"/>
<circle cx="127" cy="234.3" r="1.55" fill="#ee4a2b"/>
<circle cx="127" cy="254.7" r="1.55" fill="#ee4a2b"/>
<line x1="157.4" y1="306.1" x2="157.4" y2="311.3" stroke="#222" stroke-width="1.25"/>
<path d="M148.2 305.48 V289.4 H166.6 V305.48" fill="none" stroke="#7cc894" stroke-width="1.9"/>
<line x1="157.4" y1="289.4" x2="157.4" y2="286.2" stroke="#222" stroke-width="1.3"/>
<line x1="152.43" y1="286.2" x2="162.37" y2="286.2" stroke="#222" stroke-width="1.3"/>
<circle cx="157.4" cy="283.9" r="1.55" fill="#7cc894"/>
<circle cx="157.4" cy="288.7" r="1.55" fill="#7cc894"/>
<circle cx="157.4" cy="293.8" r="1.55" fill="#7cc894"/>
<line x1="67.3" y1="198.1" x2="124.8" y2="198.1" stroke="#222" stroke-width="1.3"/>
<text x="96" y="196.3" font-size="9.8" text-anchor="middle" font-weight="normal" fill="#111" color="#111" stroke-width="0.16">**</text>
<line x1="129.3" y1="198.1" x2="156.9" y2="198.1" stroke="#222" stroke-width="1.3"/>
<text x="143.2" y="196.3" font-size="9.8" text-anchor="middle" font-weight="normal" fill="#111" color="#111" stroke-width="0.16">**</text>
<text x="33.1" y="251.8" font-size="7.45" text-anchor="middle" font-weight="normal" fill="#222" color="#222" stroke-width="0.07" transform="rotate(-90 33.1 251.8)">relative IL-10 mRNA level</text>
<text x="69" y="318.4" font-size="7.5" text-anchor="end" font-weight="normal" fill="#222" color="#222" stroke-width="0.13" transform="rotate(-45 69 318.4)">Normal</text>
<text x="99.1" y="318.4" font-size="7.5" text-anchor="end" font-weight="normal" fill="#222" color="#222" stroke-width="0.13" transform="rotate(-45 99.1 318.4)">Normal+ αIL-1β</text>
<text x="128.9" y="318.4" font-size="7.5" text-anchor="end" font-weight="normal" fill="#222" color="#222" stroke-width="0.13" transform="rotate(-45 128.9 318.4)">OLP</text>
<text x="159.3" y="318.4" font-size="7.5" text-anchor="end" font-weight="normal" fill="#222" color="#222" stroke-width="0.13" transform="rotate(-45 159.3 318.4)">OLP+ αIL-1β</text>
<line x1="212.1" y1="306" x2="216.9" y2="306" stroke="#222" stroke-width="1.05"/>
<text x="211.3" y="308.7" font-size="7.5" text-anchor="end" font-weight="normal" fill="#222" color="#222" stroke-width="0.13">0.0</text>
<line x1="212.1" y1="278.1" x2="216.9" y2="278.1" stroke="#222" stroke-width="1.05"/>
<text x="211.3" y="280.8" font-size="7.5" text-anchor="end" font-weight="normal" fill="#222" color="#222" stroke-width="0.13">0.5</text>
<line x1="212.1" y1="250.3" x2="216.9" y2="250.3" stroke="#222" stroke-width="1.05"/>
<text x="211.3" y="253" font-size="7.5" text-anchor="end" font-weight="normal" fill="#222" color="#222" stroke-width="0.13">1.0</text>
<line x1="212.1" y1="222.4" x2="216.9" y2="222.4" stroke="#222" stroke-width="1.05"/>
<text x="211.3" y="225.1" font-size="7.5" text-anchor="end" font-weight="normal" fill="#222" color="#222" stroke-width="0.13">1.5</text>
<line x1="212.1" y1="194.6" x2="216.9" y2="194.6" stroke="#222" stroke-width="1.05"/>
<text x="211.3" y="197.3" font-size="7.5" text-anchor="end" font-weight="normal" fill="#222" color="#222" stroke-width="0.13">2.0</text>
<line x1="216.9" y1="193.97" x2="216.9" y2="306.62" stroke="#222" stroke-width="1.25"/>
<line x1="216.28" y1="306" x2="344" y2="306" stroke="#222" stroke-width="1.25"/>
<line x1="236.5" y1="306" x2="236.5" y2="311.2" stroke="#222" stroke-width="1.25"/>
<path d="M227.75 305.38 V250.1 H245.25 V305.38" fill="none" stroke="#3d85c6" stroke-width="1.9"/>
<line x1="236.5" y1="250.1" x2="236.5" y2="243.6" stroke="#222" stroke-width="1.3"/>
<line x1="231.78" y1="243.6" x2="241.22" y2="243.6" stroke="#222" stroke-width="1.3"/>
<circle cx="236.5" cy="234.3" r="1.55" fill="#3d85c6"/>
<circle cx="234.1" cy="250.4" r="1.55" fill="#3d85c6"/>
<circle cx="238.5" cy="251.2" r="1.55" fill="#3d85c6"/>
<circle cx="236.4" cy="262" r="1.55" fill="#3d85c6"/>
<line x1="265.6" y1="306" x2="265.6" y2="311.2" stroke="#222" stroke-width="1.25"/>
<path d="M256.85 305.38 V246.6 H274.35 V305.38" fill="none" stroke="#7cc894" stroke-width="1.9"/>
<line x1="265.6" y1="246.6" x2="265.6" y2="243.4" stroke="#222" stroke-width="1.3"/>
<line x1="260.88" y1="243.4" x2="270.33" y2="243.4" stroke="#222" stroke-width="1.3"/>
<circle cx="263.6" cy="241.9" r="1.55" fill="#7cc894"/>
<circle cx="267.7" cy="240.7" r="1.55" fill="#7cc894"/>
<circle cx="265.7" cy="247.7" r="1.55" fill="#7cc894"/>
<circle cx="265.7" cy="250.7" r="1.55" fill="#7cc894"/>
<line x1="295" y1="306" x2="295" y2="311.2" stroke="#222" stroke-width="1.25"/>
<path d="M286.25 305.38 V229.9 H303.75 V305.38" fill="none" stroke="#8dc3e3" stroke-width="1.9"/>
<line x1="295" y1="229.9" x2="295" y2="223.1" stroke="#222" stroke-width="1.3"/>
<line x1="290.27" y1="223.1" x2="299.73" y2="223.1" stroke="#222" stroke-width="1.3"/>
<circle cx="295" cy="211.8" r="1.55" fill="#8dc3e3"/>
<circle cx="295" cy="235.2" r="1.55" fill="#8dc3e3"/>
<circle cx="295" cy="239.9" r="1.55" fill="#8dc3e3"/>
<line x1="324.4" y1="306" x2="324.4" y2="311.2" stroke="#222" stroke-width="1.25"/>
<path d="M315.65 305.38 V266.6 H333.15 V305.38" fill="none" stroke="#ee4a2b" stroke-width="1.9"/>
<line x1="324.4" y1="266.6" x2="324.4" y2="264.4" stroke="#222" stroke-width="1.3"/>
<line x1="319.67" y1="264.4" x2="329.12" y2="264.4" stroke="#222" stroke-width="1.3"/>
<circle cx="319.8" cy="263.5" r="1.55" fill="#ee4a2b"/>
<circle cx="328.4" cy="264" r="1.55" fill="#ee4a2b"/>
<circle cx="324.2" cy="270.2" r="1.55" fill="#ee4a2b"/>
<circle cx="324.2" cy="264.5" r="1.55" fill="#ee4a2b"/>
<line x1="236.5" y1="198.5" x2="292.6" y2="198.5" stroke="#222" stroke-width="1.3"/>
<text x="264.3" y="196.5" font-size="9.8" text-anchor="middle" font-weight="normal" fill="#111" color="#111" stroke-width="0.16">*</text>
<line x1="297.2" y1="198.5" x2="324" y2="198.5" stroke="#222" stroke-width="1.3"/>
<text x="310.6" y="196.8" font-size="9.8" text-anchor="middle" font-weight="normal" fill="#111" color="#111" stroke-width="0.16">***</text>
<text x="198.1" y="251.1" font-size="7.6" text-anchor="middle" font-weight="normal" fill="#222" color="#222" stroke-width="0.08" transform="rotate(-90 198.1 251.1)">relative IL-13 mRNA level</text>
<text x="238.4" y="318.3" font-size="7.5" text-anchor="end" font-weight="normal" fill="#222" color="#222" stroke-width="0.13" transform="rotate(-45 238.4 318.3)">Normal</text>
<text x="267.5" y="318.3" font-size="7.5" text-anchor="end" font-weight="normal" fill="#222" color="#222" stroke-width="0.13" transform="rotate(-45 267.5 318.3)">Normal+ αIL-1β</text>
<text x="296.9" y="318.3" font-size="7.5" text-anchor="end" font-weight="normal" fill="#222" color="#222" stroke-width="0.13" transform="rotate(-45 296.9 318.3)">OLP</text>
<text x="326.3" y="318.3" font-size="7.5" text-anchor="end" font-weight="normal" fill="#222" color="#222" stroke-width="0.13" transform="rotate(-45 326.3 318.3)">OLP+ αIL-1β</text>
<line x1="373.9" y1="305.7" x2="378.7" y2="305.7" stroke="#222" stroke-width="1.05"/>
<text x="373.1" y="308.4" font-size="7.5" text-anchor="end" font-weight="normal" fill="#222" color="#222" stroke-width="0.13">0</text>
<line x1="373.9" y1="277.2" x2="378.7" y2="277.2" stroke="#222" stroke-width="1.05"/>
<text x="373.1" y="279.9" font-size="7.5" text-anchor="end" font-weight="normal" fill="#222" color="#222" stroke-width="0.13">1</text>
<line x1="373.9" y1="248.9" x2="378.7" y2="248.9" stroke="#222" stroke-width="1.05"/>
<text x="373.1" y="251.6" font-size="7.5" text-anchor="end" font-weight="normal" fill="#222" color="#222" stroke-width="0.13">2</text>
<line x1="373.9" y1="220.3" x2="378.7" y2="220.3" stroke="#222" stroke-width="1.05"/>
<text x="373.1" y="223" font-size="7.5" text-anchor="end" font-weight="normal" fill="#222" color="#222" stroke-width="0.13">3</text>
<line x1="373.9" y1="191.9" x2="378.7" y2="191.9" stroke="#222" stroke-width="1.05"/>
<text x="373.1" y="194.6" font-size="7.5" text-anchor="end" font-weight="normal" fill="#222" color="#222" stroke-width="0.13">4</text>
<line x1="378.7" y1="191.28" x2="378.7" y2="306.32" stroke="#222" stroke-width="1.25"/>
<line x1="378.07" y1="305.7" x2="510.3" y2="305.7" stroke="#222" stroke-width="1.25"/>
<line x1="398.9" y1="305.7" x2="398.9" y2="310.9" stroke="#222" stroke-width="1.25"/>
<path d="M389.7 305.07 V274.9 H408.1 V305.07" fill="none" stroke="#3d85c6" stroke-width="1.9"/>
<line x1="398.9" y1="274.9" x2="398.9" y2="268.3" stroke="#222" stroke-width="1.3"/>
<line x1="393.93" y1="268.3" x2="403.87" y2="268.3" stroke="#222" stroke-width="1.3"/>
<circle cx="398.9" cy="262.8" r="1.55" fill="#3d85c6"/>
<circle cx="398.2" cy="278.7" r="1.55" fill="#3d85c6"/>
<circle cx="398.2" cy="281.5" r="1.55" fill="#3d85c6"/>
<line x1="429.1" y1="305.7" x2="429.1" y2="310.9" stroke="#222" stroke-width="1.25"/>
<path d="M419.9 305.07 V273.4 H438.3 V305.07" fill="none" stroke="#8dc3e3" stroke-width="1.9"/>
<line x1="429.1" y1="273.4" x2="429.1" y2="271.5" stroke="#222" stroke-width="1.3"/>
<line x1="424.13" y1="271.5" x2="434.07" y2="271.5" stroke="#222" stroke-width="1.3"/>
<circle cx="426.9" cy="270.2" r="1.55" fill="#8dc3e3"/>
<circle cx="429.1" cy="275.6" r="1.55" fill="#8dc3e3"/>
<circle cx="430" cy="271" r="1.55" fill="#8dc3e3"/>
<line x1="459.5" y1="305.7" x2="459.5" y2="310.9" stroke="#222" stroke-width="1.25"/>
<path d="M450.3 305.07 V220.6 H468.7 V305.07" fill="none" stroke="#ee4a2b" stroke-width="1.9"/>
<line x1="459.5" y1="220.6" x2="459.5" y2="215.8" stroke="#222" stroke-width="1.3"/>
<line x1="454.53" y1="215.8" x2="464.47" y2="215.8" stroke="#222" stroke-width="1.3"/>
<circle cx="459.5" cy="213.6" r="1.55" fill="#ee4a2b"/>
<circle cx="459.5" cy="219.1" r="1.55" fill="#ee4a2b"/>
<circle cx="459.5" cy="226" r="1.55" fill="#ee4a2b"/>
<line x1="489.6" y1="305.7" x2="489.6" y2="310.9" stroke="#222" stroke-width="1.25"/>
<path d="M480.4 305.07 V240.6 H498.8 V305.07" fill="none" stroke="#7cc894" stroke-width="1.9"/>
<line x1="489.6" y1="240.6" x2="489.6" y2="235.9" stroke="#222" stroke-width="1.3"/>
<line x1="484.63" y1="235.9" x2="494.57" y2="235.9" stroke="#222" stroke-width="1.3"/>
<circle cx="489.6" cy="231.8" r="1.55" fill="#7cc894"/>
<circle cx="487.4" cy="245.3" r="1.55" fill="#7cc894"/>
<circle cx="492" cy="243.2" r="1.55" fill="#7cc894"/>
<line x1="399.2" y1="200.1" x2="457.2" y2="200.1" stroke="#222" stroke-width="1.3"/>
<text x="428" y="198.2" font-size="9.8" text-anchor="middle" font-weight="normal" fill="#111" color="#111" stroke-width="0.16">***</text>
<line x1="461.8" y1="200.1" x2="489.9" y2="200.1" stroke="#222" stroke-width="1.3"/>
<text x="476" y="198.2" font-size="9.8" text-anchor="middle" font-weight="normal" fill="#111" color="#111" stroke-width="0.16">*</text>
<text x="364.2" y="249.5" font-size="7.72" text-anchor="middle" font-weight="normal" fill="#222" color="#222" stroke-width="0.08" transform="rotate(-90 364.2 249.5)">relative IL-17 mRNA level</text>
<text x="400.8" y="318" font-size="7.5" text-anchor="end" font-weight="normal" fill="#222" color="#222" stroke-width="0.13" transform="rotate(-45 400.8 318)">Normal</text>
<text x="431" y="318" font-size="7.5" text-anchor="end" font-weight="normal" fill="#222" color="#222" stroke-width="0.13" transform="rotate(-45 431 318)">Normal+ αIL-1β</text>
<text x="461.4" y="318" font-size="7.5" text-anchor="end" font-weight="normal" fill="#222" color="#222" stroke-width="0.13" transform="rotate(-45 461.4 318)">OLP</text>
<text x="491.5" y="318" font-size="7.5" text-anchor="end" font-weight="normal" fill="#222" color="#222" stroke-width="0.13" transform="rotate(-45 491.5 318)">OLP+ αIL-1β</text>
<line x1="540.1" y1="305.5" x2="544.9" y2="305.5" stroke="#222" stroke-width="1.05"/>
<text x="539.3" y="308.2" font-size="7.5" text-anchor="end" font-weight="normal" fill="#222" color="#222" stroke-width="0.13">0</text>
<line x1="540.1" y1="277.9" x2="544.9" y2="277.9" stroke="#222" stroke-width="1.05"/>
<text x="539.3" y="280.6" font-size="7.5" text-anchor="end" font-weight="normal" fill="#222" color="#222" stroke-width="0.13">2</text>
<line x1="540.1" y1="250.4" x2="544.9" y2="250.4" stroke="#222" stroke-width="1.05"/>
<text x="539.3" y="253.1" font-size="7.5" text-anchor="end" font-weight="normal" fill="#222" color="#222" stroke-width="0.13">4</text>
<line x1="540.1" y1="222.6" x2="544.9" y2="222.6" stroke="#222" stroke-width="1.05"/>
<text x="539.3" y="225.3" font-size="7.5" text-anchor="end" font-weight="normal" fill="#222" color="#222" stroke-width="0.13">6</text>
<line x1="540.1" y1="195.2" x2="544.9" y2="195.2" stroke="#222" stroke-width="1.05"/>
<text x="539.3" y="197.9" font-size="7.5" text-anchor="end" font-weight="normal" fill="#222" color="#222" stroke-width="0.13">8</text>
<line x1="544.9" y1="194.57" x2="544.9" y2="306.12" stroke="#222" stroke-width="1.25"/>
<line x1="544.27" y1="305.5" x2="676.9" y2="305.5" stroke="#222" stroke-width="1.25"/>
<line x1="565.2" y1="305.5" x2="565.2" y2="310.7" stroke="#222" stroke-width="1.25"/>
<path d="M556 304.88 V292.8 H574.4 V304.88" fill="none" stroke="#3d85c6" stroke-width="1.9"/>
<line x1="565.2" y1="292.8" x2="565.2" y2="290.8" stroke="#222" stroke-width="1.3"/>
<line x1="560.23" y1="290.8" x2="570.17" y2="290.8" stroke="#222" stroke-width="1.3"/>
<circle cx="561.7" cy="289.6" r="1.55" fill="#3d85c6"/>
<circle cx="567.8" cy="289.2" r="1.55" fill="#3d85c6"/>
<circle cx="562.4" cy="294" r="1.55" fill="#3d85c6"/>
<circle cx="567.8" cy="294.4" r="1.55" fill="#3d85c6"/>
<line x1="595.4" y1="305.5" x2="595.4" y2="310.7" stroke="#222" stroke-width="1.25"/>
<path d="M586.2 304.88 V293.6 H604.6 V304.88" fill="none" stroke="#8dc3e3" stroke-width="1.9"/>
<line x1="595.4" y1="293.6" x2="595.4" y2="287.2" stroke="#222" stroke-width="1.3"/>
<line x1="590.43" y1="287.2" x2="600.37" y2="287.2" stroke="#222" stroke-width="1.3"/>
<circle cx="595.4" cy="279.6" r="1.55" fill="#8dc3e3"/>
<circle cx="595.4" cy="297.6" r="1.55" fill="#8dc3e3"/>
<circle cx="595.4" cy="301.5" r="1.55" fill="#8dc3e3"/>
<circle cx="595.4" cy="289.5" r="1.55" fill="#8dc3e3"/>
<line x1="625.7" y1="305.5" x2="625.7" y2="310.7" stroke="#222" stroke-width="1.25"/>
<path d="M616.5 304.88 V221.2 H634.9 V304.88" fill="none" stroke="#ee4a2b" stroke-width="1.9"/>
<line x1="625.7" y1="221.2" x2="625.7" y2="214.6" stroke="#222" stroke-width="1.3"/>
<line x1="620.73" y1="214.6" x2="630.67" y2="214.6" stroke="#222" stroke-width="1.3"/>
<circle cx="623.4" cy="210.9" r="1.55" fill="#ee4a2b"/>
<circle cx="628.2" cy="209.5" r="1.55" fill="#ee4a2b"/>
<circle cx="625.7" cy="228.9" r="1.55" fill="#ee4a2b"/>
<circle cx="625.7" cy="231.8" r="1.55" fill="#ee4a2b"/>
<line x1="656.1" y1="305.5" x2="656.1" y2="310.7" stroke="#222" stroke-width="1.25"/>
<path d="M646.9 304.88 V284.4 H665.3 V304.88" fill="none" stroke="#7cc894" stroke-width="1.9"/>
<line x1="656.1" y1="284.4" x2="656.1" y2="275.8" stroke="#222" stroke-width="1.3"/>
<line x1="651.13" y1="275.8" x2="661.07" y2="275.8" stroke="#222" stroke-width="1.3"/>
<circle cx="656.1" cy="269" r="1.55" fill="#7cc894"/>
<circle cx="656.1" cy="271.9" r="1.55" fill="#7cc894"/>
<circle cx="656.1" cy="291" r="1.55" fill="#7cc894"/>
<circle cx="656.1" cy="301.5" r="1.55" fill="#7cc894"/>
<line x1="565.2" y1="196.5" x2="623.5" y2="196.5" stroke="#222" stroke-width="1.3"/>
<text x="594.3" y="194.7" font-size="9.8" text-anchor="middle" font-weight="normal" fill="#111" color="#111" stroke-width="0.16">***</text>
<line x1="628.2" y1="196.5" x2="655.8" y2="196.5" stroke="#222" stroke-width="1.3"/>
<text x="641.9" y="194.7" font-size="9.8" text-anchor="middle" font-weight="normal" fill="#111" color="#111" stroke-width="0.16">***</text>
<text x="530.3" y="251.1" font-size="7.55" text-anchor="middle" font-weight="normal" fill="#222" color="#222" stroke-width="0.08" transform="rotate(-90 530.3 251.1)">relative TNF-α mRNA level</text>
<text x="567.1" y="317.8" font-size="7.5" text-anchor="end" font-weight="normal" fill="#222" color="#222" stroke-width="0.13" transform="rotate(-45 567.1 317.8)">Normal</text>
<text x="597.3" y="317.8" font-size="7.5" text-anchor="end" font-weight="normal" fill="#222" color="#222" stroke-width="0.13" transform="rotate(-45 597.3 317.8)">Normal+ αIL-1β</text>
<text x="627.6" y="317.8" font-size="7.5" text-anchor="end" font-weight="normal" fill="#222" color="#222" stroke-width="0.13" transform="rotate(-45 627.6 317.8)">OLP</text>
<text x="658" y="317.8" font-size="7.5" text-anchor="end" font-weight="normal" fill="#222" color="#222" stroke-width="0.13" transform="rotate(-45 658 317.8)">OLP+ αIL-1β</text>
<line x1="546.8" y1="490.2" x2="551.6" y2="490.2" stroke="#222" stroke-width="1.05"/>
<text x="546" y="492.9" font-size="7.5" text-anchor="end" font-weight="normal" fill="#222" color="#222" stroke-width="0.13">0</text>
<line x1="546.8" y1="468.8" x2="551.6" y2="468.8" stroke="#222" stroke-width="1.05"/>
<text x="546" y="471.5" font-size="7.5" text-anchor="end" font-weight="normal" fill="#222" color="#222" stroke-width="0.13">20</text>
<line x1="546.8" y1="447.3" x2="551.6" y2="447.3" stroke="#222" stroke-width="1.05"/>
<text x="546" y="450" font-size="7.5" text-anchor="end" font-weight="normal" fill="#222" color="#222" stroke-width="0.13">40</text>
<line x1="546.8" y1="426.1" x2="551.6" y2="426.1" stroke="#222" stroke-width="1.05"/>
<text x="546" y="428.8" font-size="7.5" text-anchor="end" font-weight="normal" fill="#222" color="#222" stroke-width="0.13">60</text>
<line x1="546.8" y1="404.6" x2="551.6" y2="404.6" stroke="#222" stroke-width="1.05"/>
<text x="546" y="407.3" font-size="7.5" text-anchor="end" font-weight="normal" fill="#222" color="#222" stroke-width="0.13">80</text>
<line x1="546.8" y1="383.1" x2="551.6" y2="383.1" stroke="#222" stroke-width="1.05"/>
<text x="546" y="385.8" font-size="7.5" text-anchor="end" font-weight="normal" fill="#222" color="#222" stroke-width="0.13">100</text>
<line x1="551.6" y1="382.48" x2="551.6" y2="490.82" stroke="#222" stroke-width="1.25"/>
<line x1="550.98" y1="490.2" x2="676.8" y2="490.2" stroke="#222" stroke-width="1.25"/>
<line x1="576.5" y1="490.2" x2="576.5" y2="495.4" stroke="#222" stroke-width="1.25"/>
<path d="M564.95 489.57 V431.7 H588.05 V489.57" fill="none" stroke="#3d85c6" stroke-width="1.9"/>
<line x1="576.5" y1="431.7" x2="576.5" y2="430.6" stroke="#222" stroke-width="1.3"/>
<line x1="570.26" y1="430.6" x2="582.74" y2="430.6" stroke="#222" stroke-width="1.3"/>
<circle cx="571.7" cy="431.3" r="1.55" fill="#3d85c6"/>
<circle cx="576.4" cy="430.7" r="1.55" fill="#3d85c6"/>
<circle cx="580.5" cy="430.7" r="1.55" fill="#3d85c6"/>
<circle cx="571.7" cy="433.1" r="1.55" fill="#3d85c6"/>
<line x1="613.9" y1="490.2" x2="613.9" y2="495.4" stroke="#222" stroke-width="1.25"/>
<path d="M602.35 489.57 V406.2 H625.45 V489.57" fill="none" stroke="#ee4a2b" stroke-width="1.9"/>
<line x1="613.9" y1="406.2" x2="613.9" y2="403.9" stroke="#222" stroke-width="1.3"/>
<line x1="607.66" y1="403.9" x2="620.14" y2="403.9" stroke="#222" stroke-width="1.3"/>
<circle cx="611.3" cy="401.4" r="1.55" fill="#ee4a2b"/>
<circle cx="616" cy="400.7" r="1.55" fill="#ee4a2b"/>
<circle cx="611.3" cy="409.1" r="1.55" fill="#ee4a2b"/>
<circle cx="616" cy="408.7" r="1.55" fill="#ee4a2b"/>
<line x1="651.4" y1="490.2" x2="651.4" y2="495.4" stroke="#222" stroke-width="1.25"/>
<path d="M639.85 489.57 V420.4 H662.95 V489.57" fill="none" stroke="#7cc894" stroke-width="1.9"/>
<line x1="651.4" y1="420.4" x2="651.4" y2="419.8" stroke="#222" stroke-width="1.3"/>
<line x1="645.16" y1="419.8" x2="657.64" y2="419.8" stroke="#222" stroke-width="1.3"/>
<circle cx="647" cy="419.3" r="1.55" fill="#7cc894"/>
<circle cx="651.4" cy="419.6" r="1.55" fill="#7cc894"/>
<circle cx="655.8" cy="419.3" r="1.55" fill="#7cc894"/>
<circle cx="647" cy="421" r="1.55" fill="#7cc894"/>
<line x1="576.2" y1="388.1" x2="611.7" y2="388.1" stroke="#222" stroke-width="1.3"/>
<text x="593.9" y="386.8" font-size="9.8" text-anchor="middle" font-weight="normal" fill="#111" color="#111" stroke-width="0.16">***</text>
<line x1="616.1" y1="388.1" x2="651.4" y2="388.1" stroke="#222" stroke-width="1.3"/>
<text x="633.6" y="386.8" font-size="9.8" text-anchor="middle" font-weight="normal" fill="#111" color="#111" stroke-width="0.16">***</text>
<text x="529.9" y="437.8" font-size="7.65" text-anchor="middle" font-weight="normal" fill="#222" color="#222" stroke-width="0.08" transform="rotate(-90 529.9 437.8)">Proliferation  (%)</text>
<text x="578.4" y="502.5" font-size="7.2" text-anchor="end" font-weight="normal" fill="#222" color="#222" stroke-width="0.13" transform="rotate(-45 578.4 502.5)">Control</text>
<text x="615.8" y="502.5" font-size="7.2" text-anchor="end" font-weight="normal" fill="#222" color="#222" stroke-width="0.13" transform="rotate(-45 615.8 502.5)">IL-1β</text>
<text x="653.3" y="502.5" font-size="7.2" text-anchor="end" font-weight="normal" fill="#222" color="#222" stroke-width="0.13" transform="rotate(-45 653.3 502.5)">IL-1β+IL-1Ra</text>
<line x1="45.8" y1="659.2" x2="50.6" y2="659.2" stroke="#222" stroke-width="1.05"/>
<text x="45" y="661.9" font-size="7.5" text-anchor="end" font-weight="normal" fill="#222" color="#222" stroke-width="0.13">0</text>
<line x1="45.8" y1="623.1" x2="50.6" y2="623.1" stroke="#222" stroke-width="1.05"/>
<text x="45" y="625.8" font-size="7.5" text-anchor="end" font-weight="normal" fill="#222" color="#222" stroke-width="0.13">5</text>
<line x1="45.8" y1="587.3" x2="50.6" y2="587.3" stroke="#222" stroke-width="1.05"/>
<text x="45" y="590" font-size="7.5" text-anchor="end" font-weight="normal" fill="#222" color="#222" stroke-width="0.13">10</text>
<line x1="45.8" y1="551.3" x2="50.6" y2="551.3" stroke="#222" stroke-width="1.05"/>
<text x="45" y="554" font-size="7.5" text-anchor="end" font-weight="normal" fill="#222" color="#222" stroke-width="0.13">15</text>
<line x1="50.6" y1="550.67" x2="50.6" y2="659.83" stroke="#222" stroke-width="1.25"/>
<line x1="49.98" y1="659.2" x2="179" y2="659.2" stroke="#222" stroke-width="1.25"/>
<line x1="76.1" y1="659.2" x2="76.1" y2="664.4" stroke="#222" stroke-width="1.25"/>
<path d="M64.2 658.58 V652.6 H88 V658.58" fill="none" stroke="#3d85c6" stroke-width="1.9"/>
<line x1="76.1" y1="652.6" x2="76.1" y2="651.2" stroke="#222" stroke-width="1.3"/>
<line x1="69.67" y1="651.2" x2="82.53" y2="651.2" stroke="#222" stroke-width="1.3"/>
<circle cx="76.1" cy="649.3" r="1.55" fill="#3d85c6"/>
<circle cx="72" cy="654" r="1.55" fill="#3d85c6"/>
<circle cx="80.4" cy="653.5" r="1.55" fill="#3d85c6"/>
<line x1="114.6" y1="659.2" x2="114.6" y2="664.4" stroke="#222" stroke-width="1.25"/>
<path d="M102.7 658.58 V602.5 H126.5 V658.58" fill="none" stroke="#ee4a2b" stroke-width="1.9"/>
<line x1="114.6" y1="602.5" x2="114.6" y2="595.2" stroke="#222" stroke-width="1.3"/>
<line x1="108.17" y1="595.2" x2="121.03" y2="595.2" stroke="#222" stroke-width="1.3"/>
<circle cx="114.6" cy="583.1" r="1.55" fill="#ee4a2b"/>
<circle cx="114.6" cy="602" r="1.55" fill="#ee4a2b"/>
<circle cx="114.6" cy="609.3" r="1.55" fill="#ee4a2b"/>
<circle cx="114.6" cy="613" r="1.55" fill="#ee4a2b"/>
<line x1="153.1" y1="659.2" x2="153.1" y2="664.4" stroke="#222" stroke-width="1.25"/>
<path d="M141.2 658.58 V651.4 H165 V658.58" fill="none" stroke="#7cc894" stroke-width="1.9"/>
<line x1="153.1" y1="651.4" x2="153.1" y2="650.6" stroke="#222" stroke-width="1.3"/>
<line x1="146.67" y1="650.6" x2="159.53" y2="650.6" stroke="#222" stroke-width="1.3"/>
<circle cx="148.4" cy="651.4" r="1.55" fill="#7cc894"/>
<circle cx="152.7" cy="650.8" r="1.55" fill="#7cc894"/>
<circle cx="157.2" cy="650.8" r="1.55" fill="#7cc894"/>
<line x1="76.3" y1="570.5" x2="112.1" y2="570.5" stroke="#222" stroke-width="1.3"/>
<text x="94.3" y="568.5" font-size="9.8" text-anchor="middle" font-weight="normal" fill="#111" color="#111" stroke-width="0.16">***</text>
<line x1="117.2" y1="570.5" x2="152.7" y2="570.5" stroke="#222" stroke-width="1.3"/>
<text x="135" y="568.5" font-size="9.8" text-anchor="middle" font-weight="normal" fill="#111" color="#111" stroke-width="0.16">***</text>
<text x="32.5" y="606" font-size="7.4" text-anchor="middle" font-weight="normal" fill="#222" color="#222" stroke-width="0.07" transform="rotate(-90 32.5 606)">relative  IL-10 mRNA level</text>
<text x="78" y="671.5" font-size="7.2" text-anchor="end" font-weight="normal" fill="#222" color="#222" stroke-width="0.13" transform="rotate(-45 78 671.5)">Control</text>
<text x="116.5" y="671.5" font-size="7.2" text-anchor="end" font-weight="normal" fill="#222" color="#222" stroke-width="0.13" transform="rotate(-45 116.5 671.5)">IL-1β</text>
<text x="155" y="671.5" font-size="7.2" text-anchor="end" font-weight="normal" fill="#222" color="#222" stroke-width="0.13" transform="rotate(-45 155 671.5)">IL-1β+IL-1Ra</text>
<line x1="213.6" y1="659.2" x2="218.4" y2="659.2" stroke="#222" stroke-width="1.05"/>
<text x="212.8" y="661.9" font-size="7.5" text-anchor="end" font-weight="normal" fill="#222" color="#222" stroke-width="0.13">0</text>
<line x1="213.6" y1="637.7" x2="218.4" y2="637.7" stroke="#222" stroke-width="1.05"/>
<text x="212.8" y="640.4" font-size="7.5" text-anchor="end" font-weight="normal" fill="#222" color="#222" stroke-width="0.13">2</text>
<line x1="213.6" y1="616.2" x2="218.4" y2="616.2" stroke="#222" stroke-width="1.05"/>
<text x="212.8" y="618.9" font-size="7.5" text-anchor="end" font-weight="normal" fill="#222" color="#222" stroke-width="0.13">4</text>
<line x1="213.6" y1="594.6" x2="218.4" y2="594.6" stroke="#222" stroke-width="1.05"/>
<text x="212.8" y="597.3" font-size="7.5" text-anchor="end" font-weight="normal" fill="#222" color="#222" stroke-width="0.13">6</text>
<line x1="213.6" y1="573.1" x2="218.4" y2="573.1" stroke="#222" stroke-width="1.05"/>
<text x="212.8" y="575.8" font-size="7.5" text-anchor="end" font-weight="normal" fill="#222" color="#222" stroke-width="0.13">8</text>
<line x1="213.6" y1="551.6" x2="218.4" y2="551.6" stroke="#222" stroke-width="1.05"/>
<text x="212.8" y="554.3" font-size="7.5" text-anchor="end" font-weight="normal" fill="#222" color="#222" stroke-width="0.13">10</text>
<line x1="218.4" y1="550.98" x2="218.4" y2="659.83" stroke="#222" stroke-width="1.25"/>
<line x1="217.78" y1="659.2" x2="346.5" y2="659.2" stroke="#222" stroke-width="1.25"/>
<line x1="243.5" y1="659.2" x2="243.5" y2="664.4" stroke="#222" stroke-width="1.25"/>
<path d="M231.6 658.58 V648.9 H255.4 V658.58" fill="none" stroke="#3d85c6" stroke-width="1.9"/>
<line x1="243.5" y1="648.9" x2="243.5" y2="648" stroke="#222" stroke-width="1.3"/>
<line x1="237.07" y1="648" x2="249.93" y2="648" stroke="#222" stroke-width="1.3"/>
<circle cx="240" cy="647.9" r="1.55" fill="#3d85c6"/>
<circle cx="244" cy="647.4" r="1.55" fill="#3d85c6"/>
<circle cx="248" cy="648.4" r="1.55" fill="#3d85c6"/>
<circle cx="241" cy="649.9" r="1.55" fill="#3d85c6"/>
<line x1="282" y1="659.2" x2="282" y2="664.4" stroke="#222" stroke-width="1.25"/>
<path d="M270.1 658.58 V564.6 H293.9 V658.58" fill="none" stroke="#ee4a2b" stroke-width="1.9"/>
<line x1="282" y1="564.6" x2="282" y2="561.2" stroke="#222" stroke-width="1.3"/>
<line x1="275.57" y1="561.2" x2="288.43" y2="561.2" stroke="#222" stroke-width="1.3"/>
<circle cx="279.6" cy="558.9" r="1.55" fill="#ee4a2b"/>
<circle cx="284.7" cy="558" r="1.55" fill="#ee4a2b"/>
<circle cx="281.9" cy="566.8" r="1.55" fill="#ee4a2b"/>
<circle cx="281.9" cy="568.9" r="1.55" fill="#ee4a2b"/>
<circle cx="281.9" cy="570.8" r="1.55" fill="#ee4a2b"/>
<line x1="320.7" y1="659.2" x2="320.7" y2="664.4" stroke="#222" stroke-width="1.25"/>
<path d="M308.8 658.58 V637.8 H332.6 V658.58" fill="none" stroke="#7cc894" stroke-width="1.9"/>
<line x1="320.7" y1="637.8" x2="320.7" y2="637" stroke="#222" stroke-width="1.3"/>
<line x1="314.27" y1="637" x2="327.13" y2="637" stroke="#222" stroke-width="1.3"/>
<circle cx="315.8" cy="636.4" r="1.55" fill="#7cc894"/>
<circle cx="320.2" cy="636.7" r="1.55" fill="#7cc894"/>
<circle cx="324.6" cy="637.3" r="1.55" fill="#7cc894"/>
<line x1="243.7" y1="546" x2="279.6" y2="546" stroke="#222" stroke-width="1.3"/>
<text x="261.5" y="544.3" font-size="9.8" text-anchor="middle" font-weight="normal" fill="#111" color="#111" stroke-width="0.16">***</text>
<line x1="284.3" y1="546" x2="320.2" y2="546" stroke="#222" stroke-width="1.3"/>
<text x="302.2" y="544.3" font-size="9.8" text-anchor="middle" font-weight="normal" fill="#111" color="#111" stroke-width="0.16">***</text>
<text x="200.2" y="606.2" font-size="7.3" text-anchor="middle" font-weight="normal" fill="#222" color="#222" stroke-width="0.07" transform="rotate(-90 200.2 606.2)">relative IL-13 mRNA level</text>
<text x="245.4" y="670.9" font-size="7.2" text-anchor="end" font-weight="normal" fill="#222" color="#222" stroke-width="0.13" transform="rotate(-45 245.4 670.9)">Control</text>
<text x="283.9" y="670.9" font-size="7.2" text-anchor="end" font-weight="normal" fill="#222" color="#222" stroke-width="0.13" transform="rotate(-45 283.9 670.9)">IL-1β</text>
<text x="322.6" y="670.9" font-size="7.2" text-anchor="end" font-weight="normal" fill="#222" color="#222" stroke-width="0.13" transform="rotate(-45 322.6 670.9)">IL-1β+IL-1Ra</text>
<line x1="377.4" y1="659.2" x2="382.2" y2="659.2" stroke="#222" stroke-width="1.05"/>
<text x="376.6" y="661.9" font-size="7.5" text-anchor="end" font-weight="normal" fill="#222" color="#222" stroke-width="0.13">0</text>
<line x1="377.4" y1="637.3" x2="382.2" y2="637.3" stroke="#222" stroke-width="1.05"/>
<text x="376.6" y="640" font-size="7.5" text-anchor="end" font-weight="normal" fill="#222" color="#222" stroke-width="0.13">1</text>
<line x1="377.4" y1="615.4" x2="382.2" y2="615.4" stroke="#222" stroke-width="1.05"/>
<text x="376.6" y="618.1" font-size="7.5" text-anchor="end" font-weight="normal" fill="#222" color="#222" stroke-width="0.13">2</text>
<line x1="377.4" y1="593.4" x2="382.2" y2="593.4" stroke="#222" stroke-width="1.05"/>
<text x="376.6" y="596.1" font-size="7.5" text-anchor="end" font-weight="normal" fill="#222" color="#222" stroke-width="0.13">3</text>
<line x1="377.4" y1="571.6" x2="382.2" y2="571.6" stroke="#222" stroke-width="1.05"/>
<text x="376.6" y="574.3" font-size="7.5" text-anchor="end" font-weight="normal" fill="#222" color="#222" stroke-width="0.13">4</text>
<line x1="377.4" y1="549.5" x2="382.2" y2="549.5" stroke="#222" stroke-width="1.05"/>
<text x="376.6" y="552.2" font-size="7.5" text-anchor="end" font-weight="normal" fill="#222" color="#222" stroke-width="0.13">5</text>
<line x1="382.2" y1="548.88" x2="382.2" y2="659.83" stroke="#222" stroke-width="1.25"/>
<line x1="381.57" y1="659.2" x2="513.9" y2="659.2" stroke="#222" stroke-width="1.25"/>
<line x1="408.6" y1="659.2" x2="408.6" y2="664.4" stroke="#222" stroke-width="1.25"/>
<path d="M396.25 658.58 V635.7 H420.95 V658.58" fill="none" stroke="#3d85c6" stroke-width="1.9"/>
<line x1="408.6" y1="635.7" x2="408.6" y2="629.1" stroke="#222" stroke-width="1.3"/>
<line x1="401.93" y1="629.1" x2="415.27" y2="629.1" stroke="#222" stroke-width="1.3"/>
<circle cx="406.2" cy="625.6" r="1.55" fill="#3d85c6"/>
<circle cx="410.7" cy="624" r="1.55" fill="#3d85c6"/>
<circle cx="408.2" cy="641.8" r="1.55" fill="#3d85c6"/>
<circle cx="408.2" cy="648.5" r="1.55" fill="#3d85c6"/>
<line x1="447.9" y1="659.2" x2="447.9" y2="664.4" stroke="#222" stroke-width="1.25"/>
<path d="M435.55 658.58 V573.5 H460.25 V658.58" fill="none" stroke="#ee4a2b" stroke-width="1.9"/>
<line x1="447.9" y1="573.5" x2="447.9" y2="567.8" stroke="#222" stroke-width="1.3"/>
<line x1="441.23" y1="567.8" x2="454.57" y2="567.8" stroke="#222" stroke-width="1.3"/>
<circle cx="447.9" cy="557.2" r="1.55" fill="#ee4a2b"/>
<circle cx="447.9" cy="574.6" r="1.55" fill="#ee4a2b"/>
<circle cx="445.4" cy="580.5" r="1.55" fill="#ee4a2b"/>
<circle cx="450.5" cy="580.5" r="1.55" fill="#ee4a2b"/>
<line x1="487.1" y1="659.2" x2="487.1" y2="664.4" stroke="#222" stroke-width="1.25"/>
<path d="M474.75 658.58 V634.6 H499.45 V658.58" fill="none" stroke="#7cc894" stroke-width="1.9"/>
<line x1="487.1" y1="634.6" x2="487.1" y2="627.3" stroke="#222" stroke-width="1.3"/>
<line x1="480.43" y1="627.3" x2="493.77" y2="627.3" stroke="#222" stroke-width="1.3"/>
<circle cx="487.1" cy="616.4" r="1.55" fill="#7cc894"/>
<circle cx="487.1" cy="631.8" r="1.55" fill="#7cc894"/>
<circle cx="487.1" cy="641" r="1.55" fill="#7cc894"/>
<circle cx="487.1" cy="646.5" r="1.55" fill="#7cc894"/>
<line x1="408.6" y1="544.3" x2="445.4" y2="544.3" stroke="#222" stroke-width="1.3"/>
<text x="427" y="543" font-size="9.8" text-anchor="middle" font-weight="normal" fill="#111" color="#111" stroke-width="0.16">***</text>
<line x1="450.5" y1="544.3" x2="486.9" y2="544.3" stroke="#222" stroke-width="1.3"/>
<text x="468.3" y="543" font-size="9.8" text-anchor="middle" font-weight="normal" fill="#111" color="#111" stroke-width="0.16">***</text>
<text x="368.4" y="605.1" font-size="7.45" text-anchor="middle" font-weight="normal" fill="#222" color="#222" stroke-width="0.07" transform="rotate(-90 368.4 605.1)">relative IL-17 mRNA level</text>
<text x="410.5" y="671.5" font-size="7.2" text-anchor="end" font-weight="normal" fill="#222" color="#222" stroke-width="0.13" transform="rotate(-45 410.5 671.5)">Control</text>
<text x="449.8" y="671.5" font-size="7.2" text-anchor="end" font-weight="normal" fill="#222" color="#222" stroke-width="0.13" transform="rotate(-45 449.8 671.5)">IL-1β</text>
<text x="489" y="671.5" font-size="7.2" text-anchor="end" font-weight="normal" fill="#222" color="#222" stroke-width="0.13" transform="rotate(-45 489 671.5)">IL-1β+IL-1Ra</text>
<line x1="544.8" y1="659.2" x2="549.6" y2="659.2" stroke="#222" stroke-width="1.05"/>
<text x="544" y="661.9" font-size="7.5" text-anchor="end" font-weight="normal" fill="#222" color="#222" stroke-width="0.13">0</text>
<line x1="544.8" y1="631.8" x2="549.6" y2="631.8" stroke="#222" stroke-width="1.05"/>
<text x="544" y="634.5" font-size="7.5" text-anchor="end" font-weight="normal" fill="#222" color="#222" stroke-width="0.13">1</text>
<line x1="544.8" y1="604.4" x2="549.6" y2="604.4" stroke="#222" stroke-width="1.05"/>
<text x="544" y="607.1" font-size="7.5" text-anchor="end" font-weight="normal" fill="#222" color="#222" stroke-width="0.13">2</text>
<line x1="544.8" y1="576.8" x2="549.6" y2="576.8" stroke="#222" stroke-width="1.05"/>
<text x="544" y="579.5" font-size="7.5" text-anchor="end" font-weight="normal" fill="#222" color="#222" stroke-width="0.13">3</text>
<line x1="544.8" y1="549.5" x2="549.6" y2="549.5" stroke="#222" stroke-width="1.05"/>
<text x="544" y="552.2" font-size="7.5" text-anchor="end" font-weight="normal" fill="#222" color="#222" stroke-width="0.13">4</text>
<line x1="549.6" y1="548.88" x2="549.6" y2="659.83" stroke="#222" stroke-width="1.25"/>
<line x1="548.98" y1="659.2" x2="680.9" y2="659.2" stroke="#222" stroke-width="1.25"/>
<line x1="575.9" y1="659.2" x2="575.9" y2="664.4" stroke="#222" stroke-width="1.25"/>
<path d="M563.85 658.58 V630.6 H587.95 V658.58" fill="none" stroke="#3d85c6" stroke-width="1.9"/>
<line x1="575.9" y1="630.6" x2="575.9" y2="626.5" stroke="#222" stroke-width="1.3"/>
<line x1="569.39" y1="626.5" x2="582.41" y2="626.5" stroke="#222" stroke-width="1.3"/>
<circle cx="575.9" cy="621.6" r="1.55" fill="#3d85c6"/>
<circle cx="575.9" cy="627.7" r="1.55" fill="#3d85c6"/>
<circle cx="575.9" cy="633.2" r="1.55" fill="#3d85c6"/>
<circle cx="575.9" cy="638.7" r="1.55" fill="#3d85c6"/>
<line x1="615.3" y1="659.2" x2="615.3" y2="664.4" stroke="#222" stroke-width="1.25"/>
<path d="M603.25 658.58 V578.4 H627.35 V658.58" fill="none" stroke="#ee4a2b" stroke-width="1.9"/>
<line x1="615.3" y1="578.4" x2="615.3" y2="571.9" stroke="#222" stroke-width="1.3"/>
<line x1="608.79" y1="571.9" x2="621.81" y2="571.9" stroke="#222" stroke-width="1.3"/>
<circle cx="615.3" cy="565.8" r="1.55" fill="#ee4a2b"/>
<circle cx="615.3" cy="568.8" r="1.55" fill="#ee4a2b"/>
<circle cx="612.9" cy="588.7" r="1.55" fill="#ee4a2b"/>
<circle cx="617.6" cy="587.6" r="1.55" fill="#ee4a2b"/>
<line x1="654.9" y1="659.2" x2="654.9" y2="664.4" stroke="#222" stroke-width="1.25"/>
<path d="M642.85 658.58 V631.6 H666.95 V658.58" fill="none" stroke="#7cc894" stroke-width="1.9"/>
<line x1="654.9" y1="631.6" x2="654.9" y2="626.1" stroke="#222" stroke-width="1.3"/>
<line x1="648.39" y1="626.1" x2="661.41" y2="626.1" stroke="#222" stroke-width="1.3"/>
<circle cx="652.3" cy="623.6" r="1.55" fill="#7cc894"/>
<circle cx="657" cy="622.6" r="1.55" fill="#7cc894"/>
<circle cx="654.7" cy="636.7" r="1.55" fill="#7cc894"/>
<circle cx="654.7" cy="641.4" r="1.55" fill="#7cc894"/>
<line x1="576.1" y1="552.9" x2="612.9" y2="552.9" stroke="#222" stroke-width="1.3"/>
<text x="594.5" y="550.7" font-size="9.8" text-anchor="middle" font-weight="normal" fill="#111" color="#111" stroke-width="0.16">***</text>
<line x1="617.6" y1="552.9" x2="654.7" y2="552.9" stroke="#222" stroke-width="1.3"/>
<text x="635.9" y="550.7" font-size="9.8" text-anchor="middle" font-weight="normal" fill="#111" color="#111" stroke-width="0.16">***</text>
<text x="535.8" y="604.8" font-size="7.6" text-anchor="middle" font-weight="normal" fill="#222" color="#222" stroke-width="0.08" transform="rotate(-90 535.8 604.8)">relative TNF-α mRNA level</text>
<text x="577.8" y="671.5" font-size="7.4" text-anchor="end" font-weight="normal" fill="#222" color="#222" stroke-width="0.13" transform="rotate(-45 577.8 671.5)">Control</text>
<text x="617.2" y="671.5" font-size="7.4" text-anchor="end" font-weight="normal" fill="#222" color="#222" stroke-width="0.13" transform="rotate(-45 617.2 671.5)">IL-1β</text>
<text x="656.8" y="671.5" font-size="7.4" text-anchor="end" font-weight="normal" fill="#222" color="#222" stroke-width="0.13" transform="rotate(-45 656.8 671.5)">IL-1β+IL-1Ra</text>
</svg>
</body></html>
